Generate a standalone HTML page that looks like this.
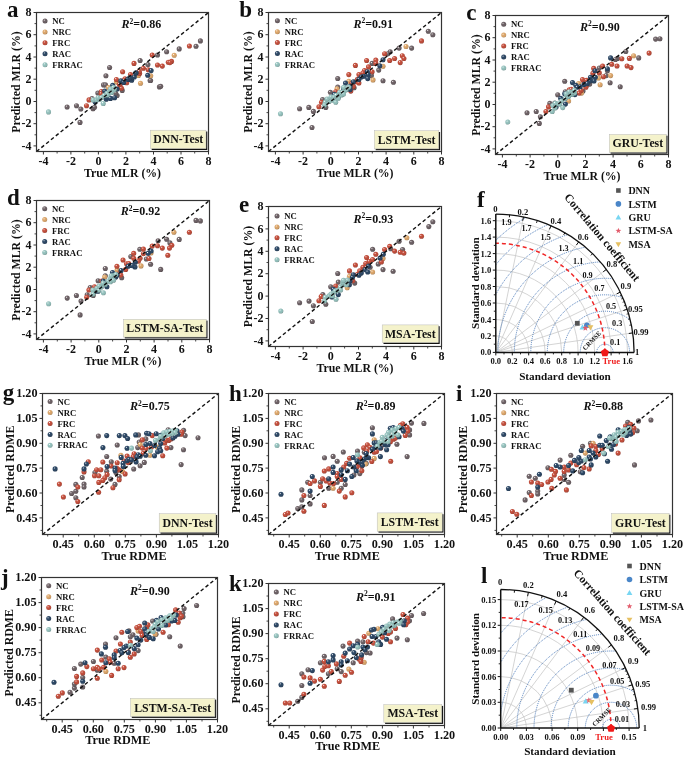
<!DOCTYPE html><html><head><meta charset="utf-8"><style>html,body{margin:0;padding:0;background:#fff}svg{display:block}</style></head><body><svg width="685" height="757" viewBox="0 0 685 757">
<defs><radialGradient id="gNC" cx="0.4" cy="0.38" r="0.62" fx="0.36" fy="0.32"><stop offset="0" stop-color="#ffffff"/><stop offset="0.16" stop-color="#a29a9d"/><stop offset="0.34" stop-color="#716569"/><stop offset="0.85" stop-color="#675c60"/><stop offset="1" stop-color="#544b4e"/></radialGradient><radialGradient id="gNRC" cx="0.4" cy="0.38" r="0.62" fx="0.36" fy="0.32"><stop offset="0" stop-color="#ffffff"/><stop offset="0.16" stop-color="#eac7a0"/><stop offset="0.34" stop-color="#e0aa6e"/><stop offset="0.85" stop-color="#ce9c65"/><stop offset="1" stop-color="#a87f52"/></radialGradient><radialGradient id="gFRC" cx="0.4" cy="0.38" r="0.62" fx="0.36" fy="0.32"><stop offset="0" stop-color="#ffffff"/><stop offset="0.16" stop-color="#d98d82"/><stop offset="0.34" stop-color="#c6513f"/><stop offset="0.85" stop-color="#b64a39"/><stop offset="1" stop-color="#943c2f"/></radialGradient><radialGradient id="gRAC" cx="0.4" cy="0.38" r="0.62" fx="0.36" fy="0.32"><stop offset="0" stop-color="#ffffff"/><stop offset="0.16" stop-color="#77899c"/><stop offset="0.34" stop-color="#2f4a68"/><stop offset="0.85" stop-color="#2b445f"/><stop offset="1" stop-color="#23374e"/></radialGradient><radialGradient id="gFRRAC" cx="0.4" cy="0.38" r="0.62" fx="0.36" fy="0.32"><stop offset="0" stop-color="#ffffff"/><stop offset="0.16" stop-color="#bcd9d6"/><stop offset="0.34" stop-color="#98c5c1"/><stop offset="0.85" stop-color="#8bb5b1"/><stop offset="1" stop-color="#729390"/></radialGradient></defs>
<style>
text{font-family:"Liberation Serif",serif;font-weight:bold;fill:#111}
svg{will-change:transform}
.al{font-size:11.8px}
.lg{font-size:8.7px}
.r2{font-size:12px}
.bx{font-size:11.8px}
.pl{font-size:23px}
.tt{font-size:8.6px}
.tc{font-size:8.2px}
.tcr{font-size:6.5px}
.tl{font-size:10px}
</style>
<rect width="685" height="757" fill="#fff"/>
<clipPath id="cpa"><rect x="36.5" y="12.5" width="172.0" height="139.0"/></clipPath>
<g clip-path="url(#cpa)">
<circle cx="67.1" cy="107.0" r="2.55" fill="url(#gNC)"/>
<circle cx="76.5" cy="105.7" r="2.55" fill="url(#gNC)"/>
<circle cx="80.8" cy="109.0" r="2.55" fill="url(#gNC)"/>
<circle cx="80.0" cy="122.4" r="2.55" fill="url(#gNC)"/>
<circle cx="93.0" cy="108.7" r="2.55" fill="url(#gNC)"/>
<circle cx="94.5" cy="107.2" r="2.55" fill="url(#gNC)"/>
<circle cx="92.0" cy="98.5" r="2.55" fill="url(#gNC)"/>
<circle cx="97.8" cy="93.0" r="2.55" fill="url(#gNC)"/>
<circle cx="117.1" cy="95.5" r="2.55" fill="url(#gNC)"/>
<circle cx="115.7" cy="93.3" r="2.55" fill="url(#gNC)"/>
<circle cx="103.5" cy="84.9" r="2.55" fill="url(#gNC)"/>
<circle cx="105.5" cy="84.9" r="2.55" fill="url(#gNC)"/>
<circle cx="105.9" cy="75.8" r="2.55" fill="url(#gNC)"/>
<circle cx="109.6" cy="67.5" r="2.55" fill="url(#gNC)"/>
<circle cx="122.2" cy="90.4" r="2.55" fill="url(#gNC)"/>
<circle cx="150.1" cy="80.5" r="2.55" fill="url(#gNC)"/>
<circle cx="159.4" cy="86.9" r="2.55" fill="url(#gNC)"/>
<circle cx="200.4" cy="40.9" r="2.55" fill="url(#gNC)"/>
<circle cx="196.0" cy="46.2" r="2.55" fill="url(#gNC)"/>
<circle cx="179.2" cy="48.9" r="2.55" fill="url(#gNC)"/>
<circle cx="166.6" cy="51.8" r="2.55" fill="url(#gNC)"/>
<circle cx="157.5" cy="55.0" r="2.55" fill="url(#gNC)"/>
<circle cx="140.1" cy="60.5" r="2.55" fill="url(#gNC)"/>
<circle cx="147.9" cy="64.6" r="2.55" fill="url(#gNC)"/>
<circle cx="150.6" cy="80.5" r="2.55" fill="url(#gNC)"/>
<circle cx="160.7" cy="86.3" r="2.55" fill="url(#gNC)"/>
<circle cx="108.4" cy="87.5" r="2.55" fill="url(#gNRC)"/>
<circle cx="116.4" cy="82.0" r="2.55" fill="url(#gNRC)"/>
<circle cx="150.7" cy="75.8" r="2.55" fill="url(#gNRC)"/>
<circle cx="140.5" cy="83.2" r="2.55" fill="url(#gNRC)"/>
<circle cx="138.5" cy="75.4" r="2.55" fill="url(#gNRC)"/>
<circle cx="174.2" cy="55.3" r="2.55" fill="url(#gNRC)"/>
<circle cx="86.5" cy="105.7" r="2.55" fill="url(#gFRC)"/>
<circle cx="89.0" cy="99.9" r="2.55" fill="url(#gFRC)"/>
<circle cx="101.4" cy="91.5" r="2.55" fill="url(#gFRC)"/>
<circle cx="101.1" cy="93.7" r="2.55" fill="url(#gFRC)"/>
<circle cx="116.4" cy="79.5" r="2.55" fill="url(#gFRC)"/>
<circle cx="120.0" cy="85.3" r="2.55" fill="url(#gFRC)"/>
<circle cx="121.5" cy="88.2" r="2.55" fill="url(#gFRC)"/>
<circle cx="125.9" cy="82.4" r="2.55" fill="url(#gFRC)"/>
<circle cx="125.0" cy="78.8" r="2.55" fill="url(#gFRC)"/>
<circle cx="126.7" cy="82.8" r="2.55" fill="url(#gFRC)"/>
<circle cx="139.6" cy="73.5" r="2.55" fill="url(#gFRC)"/>
<circle cx="122.6" cy="71.8" r="2.55" fill="url(#gFRC)"/>
<circle cx="130.5" cy="74.6" r="2.55" fill="url(#gFRC)"/>
<circle cx="139.3" cy="71.4" r="2.55" fill="url(#gFRC)"/>
<circle cx="143.4" cy="68.2" r="2.55" fill="url(#gFRC)"/>
<circle cx="148.2" cy="69.8" r="2.55" fill="url(#gFRC)"/>
<circle cx="124.1" cy="80.2" r="2.55" fill="url(#gFRC)"/>
<circle cx="119.3" cy="84.2" r="2.55" fill="url(#gFRC)"/>
<circle cx="189.4" cy="46.0" r="2.55" fill="url(#gFRC)"/>
<circle cx="152.2" cy="55.0" r="2.55" fill="url(#gFRC)"/>
<circle cx="134.0" cy="63.4" r="2.55" fill="url(#gFRC)"/>
<circle cx="157.5" cy="65.0" r="2.55" fill="url(#gFRC)"/>
<circle cx="162.3" cy="66.1" r="2.55" fill="url(#gFRC)"/>
<circle cx="168.3" cy="62.2" r="2.55" fill="url(#gFRC)"/>
<circle cx="171.5" cy="61.4" r="2.55" fill="url(#gFRC)"/>
<circle cx="169.9" cy="62.6" r="2.55" fill="url(#gFRC)"/>
<circle cx="95.2" cy="102.1" r="2.55" fill="url(#gRAC)"/>
<circle cx="104.7" cy="91.1" r="2.55" fill="url(#gRAC)"/>
<circle cx="106.2" cy="99.2" r="2.55" fill="url(#gRAC)"/>
<circle cx="106.9" cy="97.0" r="2.55" fill="url(#gRAC)"/>
<circle cx="109.1" cy="97.7" r="2.55" fill="url(#gRAC)"/>
<circle cx="110.5" cy="98.4" r="2.55" fill="url(#gRAC)"/>
<circle cx="114.6" cy="97.7" r="2.55" fill="url(#gRAC)"/>
<circle cx="112.7" cy="85.3" r="2.55" fill="url(#gRAC)"/>
<circle cx="117.1" cy="89.0" r="2.55" fill="url(#gRAC)"/>
<circle cx="120.8" cy="80.9" r="2.55" fill="url(#gRAC)"/>
<circle cx="123.7" cy="82.4" r="2.55" fill="url(#gRAC)"/>
<circle cx="128.8" cy="79.5" r="2.55" fill="url(#gRAC)"/>
<circle cx="131.7" cy="80.2" r="2.55" fill="url(#gRAC)"/>
<circle cx="127.9" cy="79.3" r="2.55" fill="url(#gRAC)"/>
<circle cx="131.4" cy="78.2" r="2.55" fill="url(#gRAC)"/>
<circle cx="134.3" cy="77.0" r="2.55" fill="url(#gRAC)"/>
<circle cx="136.1" cy="72.9" r="2.55" fill="url(#gRAC)"/>
<circle cx="147.7" cy="75.3" r="2.55" fill="url(#gRAC)"/>
<circle cx="135.7" cy="73.0" r="2.55" fill="url(#gRAC)"/>
<circle cx="151.1" cy="70.6" r="2.55" fill="url(#gRAC)"/>
<circle cx="129.7" cy="77.8" r="2.55" fill="url(#gRAC)"/>
<circle cx="48.5" cy="111.9" r="2.55" fill="url(#gFRRAC)"/>
<circle cx="93.0" cy="99.9" r="2.55" fill="url(#gFRRAC)"/>
<circle cx="96.7" cy="99.9" r="2.55" fill="url(#gFRRAC)"/>
<circle cx="99.6" cy="99.2" r="2.55" fill="url(#gFRRAC)"/>
<circle cx="98.1" cy="97.7" r="2.55" fill="url(#gFRRAC)"/>
<circle cx="103.2" cy="103.5" r="2.55" fill="url(#gFRRAC)"/>
<circle cx="104.0" cy="95.5" r="2.55" fill="url(#gFRRAC)"/>
<circle cx="106.9" cy="93.3" r="2.55" fill="url(#gFRRAC)"/>
<circle cx="109.8" cy="91.1" r="2.55" fill="url(#gFRRAC)"/>
<circle cx="110.5" cy="89.0" r="2.55" fill="url(#gFRRAC)"/>
<circle cx="113.5" cy="87.5" r="2.55" fill="url(#gFRRAC)"/>
<circle cx="114.2" cy="89.7" r="2.55" fill="url(#gFRRAC)"/>
<circle cx="101.5" cy="97.5" r="2.55" fill="url(#gFRRAC)"/>
<circle cx="107.5" cy="95.0" r="2.55" fill="url(#gFRRAC)"/>
<circle cx="111.5" cy="92.5" r="2.55" fill="url(#gFRRAC)"/>
</g>
<line x1="36.5" y1="151.5" x2="208.5" y2="12.5" stroke="#111" stroke-width="1.4" stroke-dasharray="3.6,2.6"/>
<rect x="36.5" y="12.5" width="172.0" height="139.0" fill="none" stroke="#333" stroke-width="1.2"/>
<line x1="43.4" y1="151.5" x2="43.4" y2="154.5" stroke="#333" stroke-width="1"/>
<line x1="33.5" y1="145.9" x2="36.5" y2="145.9" stroke="#333" stroke-width="1"/>
<text x="43.4" y="164.9" text-anchor="middle" class="tk" font-size="12.0">-4</text>
<text x="31.5" y="149.5" text-anchor="end" class="tk" font-size="12.0">-4</text>
<line x1="70.9" y1="151.5" x2="70.9" y2="154.5" stroke="#333" stroke-width="1"/>
<line x1="33.5" y1="123.7" x2="36.5" y2="123.7" stroke="#333" stroke-width="1"/>
<text x="70.9" y="164.9" text-anchor="middle" class="tk" font-size="12.0">-2</text>
<text x="31.5" y="127.3" text-anchor="end" class="tk" font-size="12.0">-2</text>
<line x1="98.4" y1="151.5" x2="98.4" y2="154.5" stroke="#333" stroke-width="1"/>
<line x1="33.5" y1="101.5" x2="36.5" y2="101.5" stroke="#333" stroke-width="1"/>
<text x="98.4" y="164.9" text-anchor="middle" class="tk" font-size="12.0">0</text>
<text x="31.5" y="105.1" text-anchor="end" class="tk" font-size="12.0">0</text>
<line x1="125.9" y1="151.5" x2="125.9" y2="154.5" stroke="#333" stroke-width="1"/>
<line x1="33.5" y1="79.2" x2="36.5" y2="79.2" stroke="#333" stroke-width="1"/>
<text x="125.9" y="164.9" text-anchor="middle" class="tk" font-size="12.0">2</text>
<text x="31.5" y="82.8" text-anchor="end" class="tk" font-size="12.0">2</text>
<line x1="153.5" y1="151.5" x2="153.5" y2="154.5" stroke="#333" stroke-width="1"/>
<line x1="33.5" y1="57.0" x2="36.5" y2="57.0" stroke="#333" stroke-width="1"/>
<text x="153.5" y="164.9" text-anchor="middle" class="tk" font-size="12.0">4</text>
<text x="31.5" y="60.6" text-anchor="end" class="tk" font-size="12.0">4</text>
<line x1="181.0" y1="151.5" x2="181.0" y2="154.5" stroke="#333" stroke-width="1"/>
<line x1="33.5" y1="34.7" x2="36.5" y2="34.7" stroke="#333" stroke-width="1"/>
<text x="181.0" y="164.9" text-anchor="middle" class="tk" font-size="12.0">6</text>
<text x="31.5" y="38.3" text-anchor="end" class="tk" font-size="12.0">6</text>
<line x1="208.5" y1="151.5" x2="208.5" y2="154.5" stroke="#333" stroke-width="1"/>
<line x1="33.5" y1="12.5" x2="36.5" y2="12.5" stroke="#333" stroke-width="1"/>
<text x="208.5" y="164.9" text-anchor="middle" class="tk" font-size="12.0">8</text>
<text x="31.5" y="16.1" text-anchor="end" class="tk" font-size="12.0">8</text>
<line x1="57.1" y1="151.5" x2="57.1" y2="153.5" stroke="#333" stroke-width="0.9"/>
<line x1="34.5" y1="134.8" x2="36.5" y2="134.8" stroke="#333" stroke-width="0.9"/>
<line x1="84.7" y1="151.5" x2="84.7" y2="153.5" stroke="#333" stroke-width="0.9"/>
<line x1="34.5" y1="112.6" x2="36.5" y2="112.6" stroke="#333" stroke-width="0.9"/>
<line x1="112.2" y1="151.5" x2="112.2" y2="153.5" stroke="#333" stroke-width="0.9"/>
<line x1="34.5" y1="90.3" x2="36.5" y2="90.3" stroke="#333" stroke-width="0.9"/>
<line x1="139.7" y1="151.5" x2="139.7" y2="153.5" stroke="#333" stroke-width="0.9"/>
<line x1="34.5" y1="68.1" x2="36.5" y2="68.1" stroke="#333" stroke-width="0.9"/>
<line x1="167.2" y1="151.5" x2="167.2" y2="153.5" stroke="#333" stroke-width="0.9"/>
<line x1="34.5" y1="45.9" x2="36.5" y2="45.9" stroke="#333" stroke-width="0.9"/>
<line x1="194.7" y1="151.5" x2="194.7" y2="153.5" stroke="#333" stroke-width="0.9"/>
<line x1="34.5" y1="23.6" x2="36.5" y2="23.6" stroke="#333" stroke-width="0.9"/>
<text x="122.5" y="176.7" text-anchor="middle" class="al" style="font-size:11.8px">True MLR (%)</text>
<text transform="translate(19.5,82.0) rotate(-90)" text-anchor="middle" class="al">Predicted MLR (%)</text>
<circle cx="45" cy="21.0" r="2.5" fill="url(#gNC)"/>
<text x="52.3" y="24.1" class="lg">NC</text>
<circle cx="45" cy="31.9" r="2.5" fill="url(#gNRC)"/>
<text x="52.3" y="35.0" class="lg">NRC</text>
<circle cx="45" cy="42.8" r="2.5" fill="url(#gFRC)"/>
<text x="52.3" y="45.9" class="lg">FRC</text>
<circle cx="45" cy="53.8" r="2.5" fill="url(#gRAC)"/>
<text x="52.3" y="56.9" class="lg">RAC</text>
<circle cx="45" cy="64.7" r="2.5" fill="url(#gFRRAC)"/>
<text x="52.3" y="67.8" class="lg">FRRAC</text>
<text x="121.6" y="28" class="r2"><tspan font-style="italic">R</tspan><tspan dy="-4.5" font-size="7.5">2</tspan><tspan dy="4.5">=0.86</tspan></text>
<rect x="151.70000000000002" y="131.5" width="55.599999999999994" height="18.5" fill="#111"/>
<rect x="150.4" y="130.2" width="55.599999999999994" height="18.5" fill="#f4f2cb" stroke="#bbb" stroke-width="0.5"/>
<text x="178.2" y="143.3" text-anchor="middle" class="bx">DNN-Test</text>
<text x="7" y="16.8" class="pl">a</text>
<clipPath id="cpb"><rect x="268.5" y="12.5" width="173.0" height="139.0"/></clipPath>
<g clip-path="url(#cpb)">
<circle cx="299.6" cy="108.8" r="2.55" fill="url(#gNC)"/>
<circle cx="308.8" cy="107.4" r="2.55" fill="url(#gNC)"/>
<circle cx="313.4" cy="111.4" r="2.55" fill="url(#gNC)"/>
<circle cx="312.0" cy="127.5" r="2.55" fill="url(#gNC)"/>
<circle cx="322.6" cy="99.6" r="2.55" fill="url(#gNC)"/>
<circle cx="325.8" cy="107.4" r="2.55" fill="url(#gNC)"/>
<circle cx="330.4" cy="92.3" r="2.55" fill="url(#gNC)"/>
<circle cx="337.7" cy="87.1" r="2.55" fill="url(#gNC)"/>
<circle cx="337.7" cy="78.5" r="2.55" fill="url(#gNC)"/>
<circle cx="354.1" cy="87.7" r="2.55" fill="url(#gNC)"/>
<circle cx="428.3" cy="31.2" r="2.55" fill="url(#gNC)"/>
<circle cx="432.8" cy="34.8" r="2.55" fill="url(#gNC)"/>
<circle cx="411.6" cy="48.1" r="2.55" fill="url(#gNC)"/>
<circle cx="399.1" cy="48.1" r="2.55" fill="url(#gNC)"/>
<circle cx="390.2" cy="51.8" r="2.55" fill="url(#gNC)"/>
<circle cx="387.8" cy="53.7" r="2.55" fill="url(#gNC)"/>
<circle cx="372.1" cy="63.4" r="2.55" fill="url(#gNC)"/>
<circle cx="378.7" cy="70.1" r="2.55" fill="url(#gNC)"/>
<circle cx="371.4" cy="75.4" r="2.55" fill="url(#gNC)"/>
<circle cx="383.0" cy="80.7" r="2.55" fill="url(#gNC)"/>
<circle cx="393.4" cy="82.3" r="2.55" fill="url(#gNC)"/>
<circle cx="348.8" cy="81.2" r="2.55" fill="url(#gNRC)"/>
<circle cx="406.0" cy="46.5" r="2.55" fill="url(#gNRC)"/>
<circle cx="383.0" cy="66.2" r="2.55" fill="url(#gNRC)"/>
<circle cx="373.0" cy="79.9" r="2.55" fill="url(#gNRC)"/>
<circle cx="337.0" cy="88.9" r="2.55" fill="url(#gNRC)"/>
<circle cx="318.9" cy="106.8" r="2.55" fill="url(#gFRC)"/>
<circle cx="321.5" cy="102.2" r="2.55" fill="url(#gFRC)"/>
<circle cx="335.7" cy="91.7" r="2.55" fill="url(#gFRC)"/>
<circle cx="357.4" cy="79.2" r="2.55" fill="url(#gFRC)"/>
<circle cx="348.8" cy="74.6" r="2.55" fill="url(#gFRC)"/>
<circle cx="353.4" cy="86.4" r="2.55" fill="url(#gFRC)"/>
<circle cx="421.5" cy="40.9" r="2.55" fill="url(#gFRC)"/>
<circle cx="384.6" cy="53.7" r="2.55" fill="url(#gFRC)"/>
<circle cx="402.3" cy="55.7" r="2.55" fill="url(#gFRC)"/>
<circle cx="403.9" cy="58.5" r="2.55" fill="url(#gFRC)"/>
<circle cx="394.6" cy="58.5" r="2.55" fill="url(#gFRC)"/>
<circle cx="389.7" cy="60.5" r="2.55" fill="url(#gFRC)"/>
<circle cx="400.2" cy="62.6" r="2.55" fill="url(#gFRC)"/>
<circle cx="375.8" cy="60.1" r="2.55" fill="url(#gFRC)"/>
<circle cx="366.6" cy="60.5" r="2.55" fill="url(#gFRC)"/>
<circle cx="375.8" cy="63.4" r="2.55" fill="url(#gFRC)"/>
<circle cx="355.4" cy="65.4" r="2.55" fill="url(#gFRC)"/>
<circle cx="368.5" cy="66.9" r="2.55" fill="url(#gFRC)"/>
<circle cx="372.1" cy="71.7" r="2.55" fill="url(#gFRC)"/>
<circle cx="364.5" cy="70.6" r="2.55" fill="url(#gFRC)"/>
<circle cx="362.9" cy="73.0" r="2.55" fill="url(#gFRC)"/>
<circle cx="358.9" cy="74.6" r="2.55" fill="url(#gFRC)"/>
<circle cx="355.7" cy="81.8" r="2.55" fill="url(#gFRC)"/>
<circle cx="351.7" cy="83.4" r="2.55" fill="url(#gFRC)"/>
<circle cx="358.9" cy="83.0" r="2.55" fill="url(#gFRC)"/>
<circle cx="350.8" cy="91.1" r="2.55" fill="url(#gFRC)"/>
<circle cx="334.4" cy="94.3" r="2.55" fill="url(#gRAC)"/>
<circle cx="338.3" cy="96.9" r="2.55" fill="url(#gRAC)"/>
<circle cx="345.5" cy="83.1" r="2.55" fill="url(#gRAC)"/>
<circle cx="353.4" cy="81.8" r="2.55" fill="url(#gRAC)"/>
<circle cx="350.1" cy="86.4" r="2.55" fill="url(#gRAC)"/>
<circle cx="343.6" cy="88.4" r="2.55" fill="url(#gRAC)"/>
<circle cx="383.0" cy="59.8" r="2.55" fill="url(#gRAC)"/>
<circle cx="379.8" cy="65.8" r="2.55" fill="url(#gRAC)"/>
<circle cx="367.3" cy="71.7" r="2.55" fill="url(#gRAC)"/>
<circle cx="368.2" cy="74.6" r="2.55" fill="url(#gRAC)"/>
<circle cx="363.7" cy="76.2" r="2.55" fill="url(#gRAC)"/>
<circle cx="361.3" cy="77.0" r="2.55" fill="url(#gRAC)"/>
<circle cx="367.7" cy="78.6" r="2.55" fill="url(#gRAC)"/>
<circle cx="358.9" cy="79.4" r="2.55" fill="url(#gRAC)"/>
<circle cx="350.1" cy="89.6" r="2.55" fill="url(#gRAC)"/>
<circle cx="280.5" cy="113.8" r="2.55" fill="url(#gFRRAC)"/>
<circle cx="325.2" cy="102.2" r="2.55" fill="url(#gFRRAC)"/>
<circle cx="329.1" cy="101.5" r="2.55" fill="url(#gFRRAC)"/>
<circle cx="333.1" cy="100.2" r="2.55" fill="url(#gFRRAC)"/>
<circle cx="335.7" cy="102.2" r="2.55" fill="url(#gFRRAC)"/>
<circle cx="338.3" cy="98.2" r="2.55" fill="url(#gFRRAC)"/>
<circle cx="341.6" cy="95.0" r="2.55" fill="url(#gFRRAC)"/>
<circle cx="344.2" cy="91.0" r="2.55" fill="url(#gFRRAC)"/>
<circle cx="346.2" cy="89.7" r="2.55" fill="url(#gFRRAC)"/>
<circle cx="348.8" cy="87.1" r="2.55" fill="url(#gFRRAC)"/>
<circle cx="339.6" cy="92.3" r="2.55" fill="url(#gFRRAC)"/>
<circle cx="327.0" cy="99.0" r="2.55" fill="url(#gFRRAC)"/>
<circle cx="331.0" cy="97.0" r="2.55" fill="url(#gFRRAC)"/>
<circle cx="343.7" cy="87.4" r="2.55" fill="url(#gFRRAC)"/>
<circle cx="334.1" cy="96.9" r="2.55" fill="url(#gFRRAC)"/>
<circle cx="336.2" cy="95.4" r="2.55" fill="url(#gFRRAC)"/>
<circle cx="342.1" cy="92.5" r="2.55" fill="url(#gFRRAC)"/>
<circle cx="343.5" cy="94.0" r="2.55" fill="url(#gFRRAC)"/>
<circle cx="324.6" cy="104.9" r="2.55" fill="url(#gFRRAC)"/>
</g>
<line x1="268.5" y1="151.5" x2="441.5" y2="12.5" stroke="#111" stroke-width="1.4" stroke-dasharray="3.6,2.6"/>
<rect x="268.5" y="12.5" width="173.0" height="139.0" fill="none" stroke="#333" stroke-width="1.2"/>
<line x1="275.4" y1="151.5" x2="275.4" y2="154.5" stroke="#333" stroke-width="1"/>
<line x1="265.5" y1="145.9" x2="268.5" y2="145.9" stroke="#333" stroke-width="1"/>
<text x="275.4" y="164.9" text-anchor="middle" class="tk" font-size="12.0">-4</text>
<text x="263.5" y="149.5" text-anchor="end" class="tk" font-size="12.0">-4</text>
<line x1="303.1" y1="151.5" x2="303.1" y2="154.5" stroke="#333" stroke-width="1"/>
<line x1="265.5" y1="123.7" x2="268.5" y2="123.7" stroke="#333" stroke-width="1"/>
<text x="303.1" y="164.9" text-anchor="middle" class="tk" font-size="12.0">-2</text>
<text x="263.5" y="127.3" text-anchor="end" class="tk" font-size="12.0">-2</text>
<line x1="330.8" y1="151.5" x2="330.8" y2="154.5" stroke="#333" stroke-width="1"/>
<line x1="265.5" y1="101.5" x2="268.5" y2="101.5" stroke="#333" stroke-width="1"/>
<text x="330.8" y="164.9" text-anchor="middle" class="tk" font-size="12.0">0</text>
<text x="263.5" y="105.1" text-anchor="end" class="tk" font-size="12.0">0</text>
<line x1="358.5" y1="151.5" x2="358.5" y2="154.5" stroke="#333" stroke-width="1"/>
<line x1="265.5" y1="79.2" x2="268.5" y2="79.2" stroke="#333" stroke-width="1"/>
<text x="358.5" y="164.9" text-anchor="middle" class="tk" font-size="12.0">2</text>
<text x="263.5" y="82.8" text-anchor="end" class="tk" font-size="12.0">2</text>
<line x1="386.1" y1="151.5" x2="386.1" y2="154.5" stroke="#333" stroke-width="1"/>
<line x1="265.5" y1="57.0" x2="268.5" y2="57.0" stroke="#333" stroke-width="1"/>
<text x="386.1" y="164.9" text-anchor="middle" class="tk" font-size="12.0">4</text>
<text x="263.5" y="60.6" text-anchor="end" class="tk" font-size="12.0">4</text>
<line x1="413.8" y1="151.5" x2="413.8" y2="154.5" stroke="#333" stroke-width="1"/>
<line x1="265.5" y1="34.7" x2="268.5" y2="34.7" stroke="#333" stroke-width="1"/>
<text x="413.8" y="164.9" text-anchor="middle" class="tk" font-size="12.0">6</text>
<text x="263.5" y="38.3" text-anchor="end" class="tk" font-size="12.0">6</text>
<line x1="441.5" y1="151.5" x2="441.5" y2="154.5" stroke="#333" stroke-width="1"/>
<line x1="265.5" y1="12.5" x2="268.5" y2="12.5" stroke="#333" stroke-width="1"/>
<text x="441.5" y="164.9" text-anchor="middle" class="tk" font-size="12.0">8</text>
<text x="263.5" y="16.1" text-anchor="end" class="tk" font-size="12.0">8</text>
<line x1="289.3" y1="151.5" x2="289.3" y2="153.5" stroke="#333" stroke-width="0.9"/>
<line x1="266.5" y1="134.8" x2="268.5" y2="134.8" stroke="#333" stroke-width="0.9"/>
<line x1="316.9" y1="151.5" x2="316.9" y2="153.5" stroke="#333" stroke-width="0.9"/>
<line x1="266.5" y1="112.6" x2="268.5" y2="112.6" stroke="#333" stroke-width="0.9"/>
<line x1="344.6" y1="151.5" x2="344.6" y2="153.5" stroke="#333" stroke-width="0.9"/>
<line x1="266.5" y1="90.3" x2="268.5" y2="90.3" stroke="#333" stroke-width="0.9"/>
<line x1="372.3" y1="151.5" x2="372.3" y2="153.5" stroke="#333" stroke-width="0.9"/>
<line x1="266.5" y1="68.1" x2="268.5" y2="68.1" stroke="#333" stroke-width="0.9"/>
<line x1="400.0" y1="151.5" x2="400.0" y2="153.5" stroke="#333" stroke-width="0.9"/>
<line x1="266.5" y1="45.9" x2="268.5" y2="45.9" stroke="#333" stroke-width="0.9"/>
<line x1="427.7" y1="151.5" x2="427.7" y2="153.5" stroke="#333" stroke-width="0.9"/>
<line x1="266.5" y1="23.6" x2="268.5" y2="23.6" stroke="#333" stroke-width="0.9"/>
<text x="355.0" y="176.7" text-anchor="middle" class="al" style="font-size:11.8px">True MLR (%)</text>
<text transform="translate(252,82.0) rotate(-90)" text-anchor="middle" class="al">Predicted MLR (%)</text>
<circle cx="277.4" cy="20.8" r="2.5" fill="url(#gNC)"/>
<text x="284.7" y="23.9" class="lg">NC</text>
<circle cx="277.4" cy="31.7" r="2.5" fill="url(#gNRC)"/>
<text x="284.7" y="34.8" class="lg">NRC</text>
<circle cx="277.4" cy="42.6" r="2.5" fill="url(#gFRC)"/>
<text x="284.7" y="45.7" class="lg">FRC</text>
<circle cx="277.4" cy="53.6" r="2.5" fill="url(#gRAC)"/>
<text x="284.7" y="56.7" class="lg">RAC</text>
<circle cx="277.4" cy="64.5" r="2.5" fill="url(#gFRRAC)"/>
<text x="284.7" y="67.6" class="lg">FRRAC</text>
<text x="353.4" y="27.6" class="r2"><tspan font-style="italic">R</tspan><tspan dy="-4.5" font-size="7.5">2</tspan><tspan dy="4.5">=0.91</tspan></text>
<rect x="375.7" y="132.0" width="64.40000000000003" height="18.200000000000017" fill="#111"/>
<rect x="374.4" y="130.7" width="64.40000000000003" height="18.200000000000017" fill="#f4f2cb" stroke="#bbb" stroke-width="0.5"/>
<text x="406.6" y="143.6" text-anchor="middle" class="bx">LSTM-Test</text>
<text x="239.2" y="16.7" class="pl">b</text>
<clipPath id="cpc"><rect x="495.5" y="15.5" width="173.0" height="139.0"/></clipPath>
<g clip-path="url(#cpc)">
<circle cx="527.0" cy="112.8" r="2.55" fill="url(#gNC)"/>
<circle cx="536.2" cy="111.5" r="2.55" fill="url(#gNC)"/>
<circle cx="540.4" cy="116.8" r="2.55" fill="url(#gNC)"/>
<circle cx="539.3" cy="123.4" r="2.55" fill="url(#gNC)"/>
<circle cx="549.8" cy="103.4" r="2.55" fill="url(#gNC)"/>
<circle cx="554.8" cy="103.0" r="2.55" fill="url(#gNC)"/>
<circle cx="557.7" cy="94.7" r="2.55" fill="url(#gNC)"/>
<circle cx="565.3" cy="91.8" r="2.55" fill="url(#gNC)"/>
<circle cx="564.7" cy="81.3" r="2.55" fill="url(#gNC)"/>
<circle cx="655.6" cy="39.1" r="2.55" fill="url(#gNC)"/>
<circle cx="659.9" cy="38.7" r="2.55" fill="url(#gNC)"/>
<circle cx="625.8" cy="51.5" r="2.55" fill="url(#gNC)"/>
<circle cx="638.7" cy="57.9" r="2.55" fill="url(#gNC)"/>
<circle cx="617.5" cy="58.4" r="2.55" fill="url(#gNC)"/>
<circle cx="615.4" cy="59.5" r="2.55" fill="url(#gNC)"/>
<circle cx="599.3" cy="68.0" r="2.55" fill="url(#gNC)"/>
<circle cx="607.4" cy="70.8" r="2.55" fill="url(#gNC)"/>
<circle cx="606.2" cy="75.6" r="2.55" fill="url(#gNC)"/>
<circle cx="610.1" cy="82.8" r="2.55" fill="url(#gNC)"/>
<circle cx="620.2" cy="86.8" r="2.55" fill="url(#gNC)"/>
<circle cx="589.7" cy="84.1" r="2.55" fill="url(#gNC)"/>
<circle cx="583.0" cy="91.0" r="2.55" fill="url(#gNC)"/>
<circle cx="568.6" cy="101.0" r="2.55" fill="url(#gNRC)"/>
<circle cx="633.6" cy="55.8" r="2.55" fill="url(#gNRC)"/>
<circle cx="610.6" cy="75.6" r="2.55" fill="url(#gNRC)"/>
<circle cx="598.5" cy="78.0" r="2.55" fill="url(#gNRC)"/>
<circle cx="600.1" cy="84.7" r="2.55" fill="url(#gNRC)"/>
<circle cx="578.6" cy="83.6" r="2.55" fill="url(#gNRC)"/>
<circle cx="581.5" cy="93.1" r="2.55" fill="url(#gNRC)"/>
<circle cx="545.9" cy="111.5" r="2.55" fill="url(#gFRC)"/>
<circle cx="548.5" cy="106.9" r="2.55" fill="url(#gFRC)"/>
<circle cx="569.3" cy="89.9" r="2.55" fill="url(#gFRC)"/>
<circle cx="581.1" cy="90.5" r="2.55" fill="url(#gFRC)"/>
<circle cx="579.1" cy="93.1" r="2.55" fill="url(#gFRC)"/>
<circle cx="583.7" cy="81.3" r="2.55" fill="url(#gFRC)"/>
<circle cx="649.1" cy="53.1" r="2.55" fill="url(#gFRC)"/>
<circle cx="629.4" cy="58.4" r="2.55" fill="url(#gFRC)"/>
<circle cx="621.8" cy="58.7" r="2.55" fill="url(#gFRC)"/>
<circle cx="611.7" cy="64.3" r="2.55" fill="url(#gFRC)"/>
<circle cx="617.0" cy="66.0" r="2.55" fill="url(#gFRC)"/>
<circle cx="627.1" cy="66.0" r="2.55" fill="url(#gFRC)"/>
<circle cx="631.0" cy="67.6" r="2.55" fill="url(#gFRC)"/>
<circle cx="602.6" cy="66.0" r="2.55" fill="url(#gFRC)"/>
<circle cx="593.7" cy="68.4" r="2.55" fill="url(#gFRC)"/>
<circle cx="599.3" cy="72.9" r="2.55" fill="url(#gFRC)"/>
<circle cx="592.9" cy="73.2" r="2.55" fill="url(#gFRC)"/>
<circle cx="603.4" cy="76.7" r="2.55" fill="url(#gFRC)"/>
<circle cx="582.5" cy="79.6" r="2.55" fill="url(#gFRC)"/>
<circle cx="586.5" cy="80.4" r="2.55" fill="url(#gFRC)"/>
<circle cx="586.5" cy="85.2" r="2.55" fill="url(#gFRC)"/>
<circle cx="571.2" cy="89.2" r="2.55" fill="url(#gFRC)"/>
<circle cx="585.9" cy="87.3" r="2.55" fill="url(#gFRC)"/>
<circle cx="556.1" cy="106.9" r="2.55" fill="url(#gRAC)"/>
<circle cx="560.7" cy="98.4" r="2.55" fill="url(#gRAC)"/>
<circle cx="564.7" cy="93.8" r="2.55" fill="url(#gRAC)"/>
<circle cx="572.5" cy="82.6" r="2.55" fill="url(#gRAC)"/>
<circle cx="575.8" cy="85.3" r="2.55" fill="url(#gRAC)"/>
<circle cx="610.6" cy="57.9" r="2.55" fill="url(#gRAC)"/>
<circle cx="607.4" cy="68.7" r="2.55" fill="url(#gRAC)"/>
<circle cx="595.0" cy="70.8" r="2.55" fill="url(#gRAC)"/>
<circle cx="595.3" cy="77.2" r="2.55" fill="url(#gRAC)"/>
<circle cx="590.5" cy="77.2" r="2.55" fill="url(#gRAC)"/>
<circle cx="594.0" cy="80.9" r="2.55" fill="url(#gRAC)"/>
<circle cx="589.7" cy="80.9" r="2.55" fill="url(#gRAC)"/>
<circle cx="584.1" cy="84.4" r="2.55" fill="url(#gRAC)"/>
<circle cx="580.1" cy="86.8" r="2.55" fill="url(#gRAC)"/>
<circle cx="577.1" cy="87.3" r="2.55" fill="url(#gRAC)"/>
<circle cx="587.3" cy="83.6" r="2.55" fill="url(#gRAC)"/>
<circle cx="574.9" cy="94.6" r="2.55" fill="url(#gRAC)"/>
<circle cx="565.4" cy="104.1" r="2.55" fill="url(#gRAC)"/>
<circle cx="507.8" cy="122.0" r="2.55" fill="url(#gFRRAC)"/>
<circle cx="552.2" cy="111.5" r="2.55" fill="url(#gFRRAC)"/>
<circle cx="552.8" cy="105.6" r="2.55" fill="url(#gFRRAC)"/>
<circle cx="557.4" cy="103.7" r="2.55" fill="url(#gFRRAC)"/>
<circle cx="562.7" cy="107.6" r="2.55" fill="url(#gFRRAC)"/>
<circle cx="561.4" cy="101.0" r="2.55" fill="url(#gFRRAC)"/>
<circle cx="565.3" cy="98.4" r="2.55" fill="url(#gFRRAC)"/>
<circle cx="568.6" cy="96.4" r="2.55" fill="url(#gFRRAC)"/>
<circle cx="571.9" cy="94.5" r="2.55" fill="url(#gFRRAC)"/>
<circle cx="574.5" cy="93.1" r="2.55" fill="url(#gFRRAC)"/>
<circle cx="555.0" cy="108.0" r="2.55" fill="url(#gFRRAC)"/>
<circle cx="555.2" cy="103.4" r="2.55" fill="url(#gFRRAC)"/>
<circle cx="569.8" cy="94.6" r="2.55" fill="url(#gFRRAC)"/>
<circle cx="572.0" cy="92.4" r="2.55" fill="url(#gFRRAC)"/>
<circle cx="574.2" cy="90.2" r="2.55" fill="url(#gFRRAC)"/>
<circle cx="569.1" cy="91.7" r="2.55" fill="url(#gFRRAC)"/>
<circle cx="566.2" cy="93.9" r="2.55" fill="url(#gFRRAC)"/>
<circle cx="559.6" cy="104.1" r="2.55" fill="url(#gFRRAC)"/>
</g>
<line x1="495.5" y1="154.5" x2="668.5" y2="15.5" stroke="#111" stroke-width="1.4" stroke-dasharray="3.6,2.6"/>
<rect x="495.5" y="15.5" width="173.0" height="139.0" fill="none" stroke="#333" stroke-width="1.2"/>
<line x1="502.4" y1="154.5" x2="502.4" y2="157.5" stroke="#333" stroke-width="1"/>
<line x1="492.5" y1="148.9" x2="495.5" y2="148.9" stroke="#333" stroke-width="1"/>
<text x="502.4" y="167.9" text-anchor="middle" class="tk" font-size="12.0">-4</text>
<text x="490.5" y="152.5" text-anchor="end" class="tk" font-size="12.0">-4</text>
<line x1="530.1" y1="154.5" x2="530.1" y2="157.5" stroke="#333" stroke-width="1"/>
<line x1="492.5" y1="126.7" x2="495.5" y2="126.7" stroke="#333" stroke-width="1"/>
<text x="530.1" y="167.9" text-anchor="middle" class="tk" font-size="12.0">-2</text>
<text x="490.5" y="130.3" text-anchor="end" class="tk" font-size="12.0">-2</text>
<line x1="557.8" y1="154.5" x2="557.8" y2="157.5" stroke="#333" stroke-width="1"/>
<line x1="492.5" y1="104.5" x2="495.5" y2="104.5" stroke="#333" stroke-width="1"/>
<text x="557.8" y="167.9" text-anchor="middle" class="tk" font-size="12.0">0</text>
<text x="490.5" y="108.1" text-anchor="end" class="tk" font-size="12.0">0</text>
<line x1="585.5" y1="154.5" x2="585.5" y2="157.5" stroke="#333" stroke-width="1"/>
<line x1="492.5" y1="82.2" x2="495.5" y2="82.2" stroke="#333" stroke-width="1"/>
<text x="585.5" y="167.9" text-anchor="middle" class="tk" font-size="12.0">2</text>
<text x="490.5" y="85.8" text-anchor="end" class="tk" font-size="12.0">2</text>
<line x1="613.1" y1="154.5" x2="613.1" y2="157.5" stroke="#333" stroke-width="1"/>
<line x1="492.5" y1="60.0" x2="495.5" y2="60.0" stroke="#333" stroke-width="1"/>
<text x="613.1" y="167.9" text-anchor="middle" class="tk" font-size="12.0">4</text>
<text x="490.5" y="63.6" text-anchor="end" class="tk" font-size="12.0">4</text>
<line x1="640.8" y1="154.5" x2="640.8" y2="157.5" stroke="#333" stroke-width="1"/>
<line x1="492.5" y1="37.7" x2="495.5" y2="37.7" stroke="#333" stroke-width="1"/>
<text x="640.8" y="167.9" text-anchor="middle" class="tk" font-size="12.0">6</text>
<text x="490.5" y="41.3" text-anchor="end" class="tk" font-size="12.0">6</text>
<line x1="668.5" y1="154.5" x2="668.5" y2="157.5" stroke="#333" stroke-width="1"/>
<line x1="492.5" y1="15.5" x2="495.5" y2="15.5" stroke="#333" stroke-width="1"/>
<text x="668.5" y="167.9" text-anchor="middle" class="tk" font-size="12.0">8</text>
<text x="490.5" y="19.1" text-anchor="end" class="tk" font-size="12.0">8</text>
<line x1="516.3" y1="154.5" x2="516.3" y2="156.5" stroke="#333" stroke-width="0.9"/>
<line x1="493.5" y1="137.8" x2="495.5" y2="137.8" stroke="#333" stroke-width="0.9"/>
<line x1="543.9" y1="154.5" x2="543.9" y2="156.5" stroke="#333" stroke-width="0.9"/>
<line x1="493.5" y1="115.6" x2="495.5" y2="115.6" stroke="#333" stroke-width="0.9"/>
<line x1="571.6" y1="154.5" x2="571.6" y2="156.5" stroke="#333" stroke-width="0.9"/>
<line x1="493.5" y1="93.3" x2="495.5" y2="93.3" stroke="#333" stroke-width="0.9"/>
<line x1="599.3" y1="154.5" x2="599.3" y2="156.5" stroke="#333" stroke-width="0.9"/>
<line x1="493.5" y1="71.1" x2="495.5" y2="71.1" stroke="#333" stroke-width="0.9"/>
<line x1="627.0" y1="154.5" x2="627.0" y2="156.5" stroke="#333" stroke-width="0.9"/>
<line x1="493.5" y1="48.9" x2="495.5" y2="48.9" stroke="#333" stroke-width="0.9"/>
<line x1="654.7" y1="154.5" x2="654.7" y2="156.5" stroke="#333" stroke-width="0.9"/>
<line x1="493.5" y1="26.6" x2="495.5" y2="26.6" stroke="#333" stroke-width="0.9"/>
<text x="582.0" y="179.7" text-anchor="middle" class="al" style="font-size:11.8px">True MLR (%)</text>
<text transform="translate(479.5,85.0) rotate(-90)" text-anchor="middle" class="al">Predicted MLR (%)</text>
<circle cx="503.7" cy="24.2" r="2.5" fill="url(#gNC)"/>
<text x="511.0" y="27.3" class="lg">NC</text>
<circle cx="503.7" cy="35.1" r="2.5" fill="url(#gNRC)"/>
<text x="511.0" y="38.2" class="lg">NRC</text>
<circle cx="503.7" cy="46.0" r="2.5" fill="url(#gFRC)"/>
<text x="511.0" y="49.1" class="lg">FRC</text>
<circle cx="503.7" cy="57.0" r="2.5" fill="url(#gRAC)"/>
<text x="511.0" y="60.1" class="lg">RAC</text>
<circle cx="503.7" cy="67.9" r="2.5" fill="url(#gFRRAC)"/>
<text x="511.0" y="71.0" class="lg">FRRAC</text>
<text x="580.1" y="30.9" class="r2"><tspan font-style="italic">R</tspan><tspan dy="-4.5" font-size="7.5">2</tspan><tspan dy="4.5">=0.90</tspan></text>
<rect x="610.5999999999999" y="135.70000000000002" width="56.90000000000009" height="17.900000000000006" fill="#111"/>
<rect x="609.3" y="134.4" width="56.90000000000009" height="17.900000000000006" fill="#f4f2cb" stroke="#bbb" stroke-width="0.5"/>
<text x="637.8" y="147.2" text-anchor="middle" class="bx">GRU-Test</text>
<text x="466.3" y="20.2" class="pl">c</text>
<clipPath id="cpd"><rect x="36.5" y="200.5" width="173.0" height="139.0"/></clipPath>
<g clip-path="url(#cpd)">
<circle cx="67.2" cy="298.1" r="2.55" fill="url(#gNC)"/>
<circle cx="76.4" cy="295.5" r="2.55" fill="url(#gNC)"/>
<circle cx="81.0" cy="301.0" r="2.55" fill="url(#gNC)"/>
<circle cx="80.1" cy="314.9" r="2.55" fill="url(#gNC)"/>
<circle cx="90.2" cy="287.6" r="2.55" fill="url(#gNC)"/>
<circle cx="93.2" cy="295.5" r="2.55" fill="url(#gNC)"/>
<circle cx="98.1" cy="280.8" r="2.55" fill="url(#gNC)"/>
<circle cx="105.3" cy="268.5" r="2.55" fill="url(#gNC)"/>
<circle cx="121.7" cy="277.7" r="2.55" fill="url(#gNC)"/>
<circle cx="105.3" cy="275.8" r="2.55" fill="url(#gNC)"/>
<circle cx="196.0" cy="220.4" r="2.55" fill="url(#gNC)"/>
<circle cx="200.4" cy="220.9" r="2.55" fill="url(#gNC)"/>
<circle cx="166.6" cy="239.2" r="2.55" fill="url(#gNC)"/>
<circle cx="179.2" cy="239.4" r="2.55" fill="url(#gNC)"/>
<circle cx="169.9" cy="242.9" r="2.55" fill="url(#gNC)"/>
<circle cx="158.1" cy="240.8" r="2.55" fill="url(#gNC)"/>
<circle cx="139.8" cy="249.3" r="2.55" fill="url(#gNC)"/>
<circle cx="130.8" cy="256.6" r="2.55" fill="url(#gNC)"/>
<circle cx="146.3" cy="259.0" r="2.55" fill="url(#gNC)"/>
<circle cx="150.6" cy="264.3" r="2.55" fill="url(#gNC)"/>
<circle cx="160.7" cy="269.4" r="2.55" fill="url(#gNC)"/>
<circle cx="87.2" cy="294.8" r="2.55" fill="url(#gNC)"/>
<circle cx="117.1" cy="269.9" r="2.55" fill="url(#gNRC)"/>
<circle cx="173.9" cy="232.2" r="2.55" fill="url(#gNRC)"/>
<circle cx="151.0" cy="253.0" r="2.55" fill="url(#gNRC)"/>
<circle cx="141.0" cy="265.9" r="2.55" fill="url(#gNRC)"/>
<circle cx="104.7" cy="277.0" r="2.55" fill="url(#gNRC)"/>
<circle cx="86.7" cy="297.2" r="2.55" fill="url(#gFRC)"/>
<circle cx="88.9" cy="290.0" r="2.55" fill="url(#gFRC)"/>
<circle cx="116.9" cy="266.3" r="2.55" fill="url(#gFRC)"/>
<circle cx="123.0" cy="260.0" r="2.55" fill="url(#gFRC)"/>
<circle cx="119.8" cy="273.1" r="2.55" fill="url(#gFRC)"/>
<circle cx="189.4" cy="232.2" r="2.55" fill="url(#gFRC)"/>
<circle cx="171.8" cy="245.3" r="2.55" fill="url(#gFRC)"/>
<circle cx="169.5" cy="248.1" r="2.55" fill="url(#gFRC)"/>
<circle cx="157.5" cy="245.7" r="2.55" fill="url(#gFRC)"/>
<circle cx="162.3" cy="248.1" r="2.55" fill="url(#gFRC)"/>
<circle cx="152.2" cy="246.1" r="2.55" fill="url(#gFRC)"/>
<circle cx="167.8" cy="255.3" r="2.55" fill="url(#gFRC)"/>
<circle cx="143.4" cy="249.0" r="2.55" fill="url(#gFRC)"/>
<circle cx="133.7" cy="253.4" r="2.55" fill="url(#gFRC)"/>
<circle cx="143.4" cy="253.7" r="2.55" fill="url(#gFRC)"/>
<circle cx="149.0" cy="258.5" r="2.55" fill="url(#gFRC)"/>
<circle cx="140.1" cy="258.2" r="2.55" fill="url(#gFRC)"/>
<circle cx="133.7" cy="258.2" r="2.55" fill="url(#gFRC)"/>
<circle cx="138.5" cy="261.1" r="2.55" fill="url(#gFRC)"/>
<circle cx="126.5" cy="263.8" r="2.55" fill="url(#gFRC)"/>
<circle cx="125.7" cy="269.4" r="2.55" fill="url(#gFRC)"/>
<circle cx="120.8" cy="275.1" r="2.55" fill="url(#gFRC)"/>
<circle cx="128.8" cy="263.5" r="2.55" fill="url(#gFRC)"/>
<circle cx="101.8" cy="281.0" r="2.55" fill="url(#gFRC)"/>
<circle cx="94.5" cy="286.8" r="2.55" fill="url(#gFRC)"/>
<circle cx="94.8" cy="291.5" r="2.55" fill="url(#gRAC)"/>
<circle cx="112.5" cy="272.5" r="2.55" fill="url(#gRAC)"/>
<circle cx="121.1" cy="270.5" r="2.55" fill="url(#gRAC)"/>
<circle cx="115.8" cy="277.1" r="2.55" fill="url(#gRAC)"/>
<circle cx="151.1" cy="251.0" r="2.55" fill="url(#gRAC)"/>
<circle cx="148.2" cy="253.4" r="2.55" fill="url(#gRAC)"/>
<circle cx="135.3" cy="262.2" r="2.55" fill="url(#gRAC)"/>
<circle cx="130.2" cy="265.4" r="2.55" fill="url(#gRAC)"/>
<circle cx="135.0" cy="267.0" r="2.55" fill="url(#gRAC)"/>
<circle cx="128.1" cy="266.2" r="2.55" fill="url(#gRAC)"/>
<circle cx="132.4" cy="265.6" r="2.55" fill="url(#gRAC)"/>
<circle cx="117.1" cy="275.1" r="2.55" fill="url(#gRAC)"/>
<circle cx="103.2" cy="281.0" r="2.55" fill="url(#gRAC)"/>
<circle cx="106.9" cy="286.8" r="2.55" fill="url(#gRAC)"/>
<circle cx="98.1" cy="291.2" r="2.55" fill="url(#gRAC)"/>
<circle cx="48.6" cy="303.8" r="2.55" fill="url(#gFRRAC)"/>
<circle cx="92.8" cy="290.0" r="2.55" fill="url(#gFRRAC)"/>
<circle cx="96.8" cy="288.2" r="2.55" fill="url(#gFRRAC)"/>
<circle cx="101.4" cy="286.9" r="2.55" fill="url(#gFRRAC)"/>
<circle cx="103.4" cy="292.8" r="2.55" fill="url(#gFRRAC)"/>
<circle cx="105.3" cy="284.3" r="2.55" fill="url(#gFRRAC)"/>
<circle cx="108.0" cy="281.0" r="2.55" fill="url(#gFRRAC)"/>
<circle cx="110.6" cy="278.4" r="2.55" fill="url(#gFRRAC)"/>
<circle cx="113.2" cy="275.8" r="2.55" fill="url(#gFRRAC)"/>
<circle cx="115.8" cy="274.5" r="2.55" fill="url(#gFRRAC)"/>
<circle cx="98.8" cy="290.2" r="2.55" fill="url(#gFRRAC)"/>
<circle cx="99.0" cy="286.0" r="2.55" fill="url(#gFRRAC)"/>
<circle cx="103.0" cy="283.0" r="2.55" fill="url(#gFRRAC)"/>
<circle cx="111.2" cy="275.8" r="2.55" fill="url(#gFRRAC)"/>
<circle cx="110.5" cy="281.7" r="2.55" fill="url(#gFRRAC)"/>
<circle cx="93.0" cy="294.1" r="2.55" fill="url(#gFRRAC)"/>
<circle cx="113.5" cy="280.2" r="2.55" fill="url(#gFRRAC)"/>
</g>
<line x1="36.5" y1="339.5" x2="209.5" y2="200.5" stroke="#111" stroke-width="1.4" stroke-dasharray="3.6,2.6"/>
<rect x="36.5" y="200.5" width="173.0" height="139.0" fill="none" stroke="#333" stroke-width="1.2"/>
<line x1="43.4" y1="339.5" x2="43.4" y2="342.5" stroke="#333" stroke-width="1"/>
<line x1="33.5" y1="333.9" x2="36.5" y2="333.9" stroke="#333" stroke-width="1"/>
<text x="43.4" y="352.9" text-anchor="middle" class="tk" font-size="12.0">-4</text>
<text x="31.5" y="337.5" text-anchor="end" class="tk" font-size="12.0">-4</text>
<line x1="71.1" y1="339.5" x2="71.1" y2="342.5" stroke="#333" stroke-width="1"/>
<line x1="33.5" y1="311.7" x2="36.5" y2="311.7" stroke="#333" stroke-width="1"/>
<text x="71.1" y="352.9" text-anchor="middle" class="tk" font-size="12.0">-2</text>
<text x="31.5" y="315.3" text-anchor="end" class="tk" font-size="12.0">-2</text>
<line x1="98.8" y1="339.5" x2="98.8" y2="342.5" stroke="#333" stroke-width="1"/>
<line x1="33.5" y1="289.5" x2="36.5" y2="289.5" stroke="#333" stroke-width="1"/>
<text x="98.8" y="352.9" text-anchor="middle" class="tk" font-size="12.0">0</text>
<text x="31.5" y="293.1" text-anchor="end" class="tk" font-size="12.0">0</text>
<line x1="126.5" y1="339.5" x2="126.5" y2="342.5" stroke="#333" stroke-width="1"/>
<line x1="33.5" y1="267.2" x2="36.5" y2="267.2" stroke="#333" stroke-width="1"/>
<text x="126.5" y="352.9" text-anchor="middle" class="tk" font-size="12.0">2</text>
<text x="31.5" y="270.8" text-anchor="end" class="tk" font-size="12.0">2</text>
<line x1="154.1" y1="339.5" x2="154.1" y2="342.5" stroke="#333" stroke-width="1"/>
<line x1="33.5" y1="245.0" x2="36.5" y2="245.0" stroke="#333" stroke-width="1"/>
<text x="154.1" y="352.9" text-anchor="middle" class="tk" font-size="12.0">4</text>
<text x="31.5" y="248.6" text-anchor="end" class="tk" font-size="12.0">4</text>
<line x1="181.8" y1="339.5" x2="181.8" y2="342.5" stroke="#333" stroke-width="1"/>
<line x1="33.5" y1="222.7" x2="36.5" y2="222.7" stroke="#333" stroke-width="1"/>
<text x="181.8" y="352.9" text-anchor="middle" class="tk" font-size="12.0">6</text>
<text x="31.5" y="226.3" text-anchor="end" class="tk" font-size="12.0">6</text>
<line x1="209.5" y1="339.5" x2="209.5" y2="342.5" stroke="#333" stroke-width="1"/>
<line x1="33.5" y1="200.5" x2="36.5" y2="200.5" stroke="#333" stroke-width="1"/>
<text x="209.5" y="352.9" text-anchor="middle" class="tk" font-size="12.0">8</text>
<text x="31.5" y="204.1" text-anchor="end" class="tk" font-size="12.0">8</text>
<line x1="57.3" y1="339.5" x2="57.3" y2="341.5" stroke="#333" stroke-width="0.9"/>
<line x1="34.5" y1="322.8" x2="36.5" y2="322.8" stroke="#333" stroke-width="0.9"/>
<line x1="84.9" y1="339.5" x2="84.9" y2="341.5" stroke="#333" stroke-width="0.9"/>
<line x1="34.5" y1="300.6" x2="36.5" y2="300.6" stroke="#333" stroke-width="0.9"/>
<line x1="112.6" y1="339.5" x2="112.6" y2="341.5" stroke="#333" stroke-width="0.9"/>
<line x1="34.5" y1="278.3" x2="36.5" y2="278.3" stroke="#333" stroke-width="0.9"/>
<line x1="140.3" y1="339.5" x2="140.3" y2="341.5" stroke="#333" stroke-width="0.9"/>
<line x1="34.5" y1="256.1" x2="36.5" y2="256.1" stroke="#333" stroke-width="0.9"/>
<line x1="168.0" y1="339.5" x2="168.0" y2="341.5" stroke="#333" stroke-width="0.9"/>
<line x1="34.5" y1="233.9" x2="36.5" y2="233.9" stroke="#333" stroke-width="0.9"/>
<line x1="195.7" y1="339.5" x2="195.7" y2="341.5" stroke="#333" stroke-width="0.9"/>
<line x1="34.5" y1="211.6" x2="36.5" y2="211.6" stroke="#333" stroke-width="0.9"/>
<text x="123.0" y="364.7" text-anchor="middle" class="al" style="font-size:11.8px">True MLR (%)</text>
<text transform="translate(19.5,270.0) rotate(-90)" text-anchor="middle" class="al">Predicted MLR (%)</text>
<circle cx="44.7" cy="208.7" r="2.5" fill="url(#gNC)"/>
<text x="52.0" y="211.8" class="lg">NC</text>
<circle cx="44.7" cy="219.6" r="2.5" fill="url(#gNRC)"/>
<text x="52.0" y="222.7" class="lg">NRC</text>
<circle cx="44.7" cy="230.5" r="2.5" fill="url(#gFRC)"/>
<text x="52.0" y="233.6" class="lg">FRC</text>
<circle cx="44.7" cy="241.5" r="2.5" fill="url(#gRAC)"/>
<text x="52.0" y="244.6" class="lg">RAC</text>
<circle cx="44.7" cy="252.4" r="2.5" fill="url(#gFRRAC)"/>
<text x="52.0" y="255.5" class="lg">FRRAC</text>
<text x="120.7" y="215.4" class="r2"><tspan font-style="italic">R</tspan><tspan dy="-4.5" font-size="7.5">2</tspan><tspan dy="4.5">=0.92</tspan></text>
<rect x="124.8" y="320.6" width="82.69999999999999" height="17.80000000000001" fill="#111"/>
<rect x="123.5" y="319.3" width="82.69999999999999" height="17.80000000000001" fill="#f4f2cb" stroke="#bbb" stroke-width="0.5"/>
<text x="164.8" y="331.7" text-anchor="middle" class="bx">LSTM-SA-Test</text>
<text x="7" y="205.2" class="pl">d</text>
<clipPath id="cpe"><rect x="268.5" y="206.5" width="173.0" height="140.0"/></clipPath>
<g clip-path="url(#cpe)">
<circle cx="299.6" cy="302.8" r="2.55" fill="url(#gNC)"/>
<circle cx="309.0" cy="301.1" r="2.55" fill="url(#gNC)"/>
<circle cx="313.4" cy="305.7" r="2.55" fill="url(#gNC)"/>
<circle cx="312.3" cy="321.5" r="2.55" fill="url(#gNC)"/>
<circle cx="322.8" cy="294.6" r="2.55" fill="url(#gNC)"/>
<circle cx="325.8" cy="304.2" r="2.55" fill="url(#gNC)"/>
<circle cx="330.7" cy="286.7" r="2.55" fill="url(#gNC)"/>
<circle cx="337.7" cy="273.5" r="2.55" fill="url(#gNC)"/>
<circle cx="338.3" cy="282.1" r="2.55" fill="url(#gNC)"/>
<circle cx="354.7" cy="283.1" r="2.55" fill="url(#gNC)"/>
<circle cx="432.8" cy="221.7" r="2.55" fill="url(#gNC)"/>
<circle cx="428.8" cy="226.6" r="2.55" fill="url(#gNC)"/>
<circle cx="411.6" cy="242.3" r="2.55" fill="url(#gNC)"/>
<circle cx="399.1" cy="241.2" r="2.55" fill="url(#gNC)"/>
<circle cx="390.7" cy="248.7" r="2.55" fill="url(#gNC)"/>
<circle cx="402.6" cy="249.5" r="2.55" fill="url(#gNC)"/>
<circle cx="372.6" cy="249.2" r="2.55" fill="url(#gNC)"/>
<circle cx="378.2" cy="264.0" r="2.55" fill="url(#gNC)"/>
<circle cx="370.1" cy="267.2" r="2.55" fill="url(#gNC)"/>
<circle cx="383.0" cy="269.6" r="2.55" fill="url(#gNC)"/>
<circle cx="393.1" cy="271.2" r="2.55" fill="url(#gNC)"/>
<circle cx="349.5" cy="276.2" r="2.55" fill="url(#gNRC)"/>
<circle cx="406.8" cy="237.8" r="2.55" fill="url(#gNRC)"/>
<circle cx="383.0" cy="258.4" r="2.55" fill="url(#gNRC)"/>
<circle cx="372.6" cy="272.0" r="2.55" fill="url(#gNRC)"/>
<circle cx="347.2" cy="287.7" r="2.55" fill="url(#gNRC)"/>
<circle cx="318.9" cy="300.7" r="2.55" fill="url(#gFRC)"/>
<circle cx="321.2" cy="296.5" r="2.55" fill="url(#gFRC)"/>
<circle cx="335.7" cy="286.0" r="2.55" fill="url(#gFRC)"/>
<circle cx="349.5" cy="270.9" r="2.55" fill="url(#gFRC)"/>
<circle cx="357.4" cy="274.2" r="2.55" fill="url(#gFRC)"/>
<circle cx="352.8" cy="280.8" r="2.55" fill="url(#gFRC)"/>
<circle cx="355.4" cy="265.0" r="2.55" fill="url(#gFRC)"/>
<circle cx="421.5" cy="236.2" r="2.55" fill="url(#gFRC)"/>
<circle cx="389.7" cy="246.3" r="2.55" fill="url(#gFRC)"/>
<circle cx="384.6" cy="249.5" r="2.55" fill="url(#gFRC)"/>
<circle cx="394.6" cy="251.1" r="2.55" fill="url(#gFRC)"/>
<circle cx="400.2" cy="252.3" r="2.55" fill="url(#gFRC)"/>
<circle cx="403.9" cy="253.1" r="2.55" fill="url(#gFRC)"/>
<circle cx="375.8" cy="254.3" r="2.55" fill="url(#gFRC)"/>
<circle cx="366.6" cy="257.6" r="2.55" fill="url(#gFRC)"/>
<circle cx="372.6" cy="259.6" r="2.55" fill="url(#gFRC)"/>
<circle cx="381.4" cy="261.9" r="2.55" fill="url(#gFRC)"/>
<circle cx="369.3" cy="261.6" r="2.55" fill="url(#gFRC)"/>
<circle cx="365.7" cy="263.5" r="2.55" fill="url(#gFRC)"/>
<circle cx="362.9" cy="267.2" r="2.55" fill="url(#gFRC)"/>
<circle cx="359.7" cy="270.9" r="2.55" fill="url(#gFRC)"/>
<circle cx="338.3" cy="294.6" r="2.55" fill="url(#gRAC)"/>
<circle cx="332.0" cy="297.0" r="2.55" fill="url(#gRAC)"/>
<circle cx="353.4" cy="274.9" r="2.55" fill="url(#gRAC)"/>
<circle cx="383.3" cy="254.3" r="2.55" fill="url(#gRAC)"/>
<circle cx="380.1" cy="258.0" r="2.55" fill="url(#gRAC)"/>
<circle cx="368.5" cy="266.1" r="2.55" fill="url(#gRAC)"/>
<circle cx="365.0" cy="269.6" r="2.55" fill="url(#gRAC)"/>
<circle cx="367.7" cy="272.0" r="2.55" fill="url(#gRAC)"/>
<circle cx="361.3" cy="273.1" r="2.55" fill="url(#gRAC)"/>
<circle cx="358.9" cy="275.2" r="2.55" fill="url(#gRAC)"/>
<circle cx="352.5" cy="277.3" r="2.55" fill="url(#gRAC)"/>
<circle cx="350.1" cy="281.1" r="2.55" fill="url(#gRAC)"/>
<circle cx="349.4" cy="284.8" r="2.55" fill="url(#gRAC)"/>
<circle cx="333.3" cy="289.2" r="2.55" fill="url(#gRAC)"/>
<circle cx="280.8" cy="311.0" r="2.55" fill="url(#gFRRAC)"/>
<circle cx="325.2" cy="297.2" r="2.55" fill="url(#gFRRAC)"/>
<circle cx="329.1" cy="295.9" r="2.55" fill="url(#gFRRAC)"/>
<circle cx="336.0" cy="299.2" r="2.55" fill="url(#gFRRAC)"/>
<circle cx="333.1" cy="293.2" r="2.55" fill="url(#gFRRAC)"/>
<circle cx="337.0" cy="290.6" r="2.55" fill="url(#gFRRAC)"/>
<circle cx="340.3" cy="287.3" r="2.55" fill="url(#gFRRAC)"/>
<circle cx="342.9" cy="284.7" r="2.55" fill="url(#gFRRAC)"/>
<circle cx="345.5" cy="282.1" r="2.55" fill="url(#gFRRAC)"/>
<circle cx="347.5" cy="280.1" r="2.55" fill="url(#gFRRAC)"/>
<circle cx="331.0" cy="294.0" r="2.55" fill="url(#gFRRAC)"/>
<circle cx="335.0" cy="291.0" r="2.55" fill="url(#gFRRAC)"/>
<circle cx="342.8" cy="282.4" r="2.55" fill="url(#gFRRAC)"/>
<circle cx="343.5" cy="280.4" r="2.55" fill="url(#gFRRAC)"/>
<circle cx="340.6" cy="289.9" r="2.55" fill="url(#gFRRAC)"/>
<circle cx="324.6" cy="300.8" r="2.55" fill="url(#gFRRAC)"/>
<circle cx="346.5" cy="284.8" r="2.55" fill="url(#gFRRAC)"/>
<circle cx="332.6" cy="295.7" r="2.55" fill="url(#gFRRAC)"/>
</g>
<line x1="268.5" y1="346.5" x2="441.5" y2="206.5" stroke="#111" stroke-width="1.4" stroke-dasharray="3.6,2.6"/>
<rect x="268.5" y="206.5" width="173.0" height="140.0" fill="none" stroke="#333" stroke-width="1.2"/>
<line x1="275.4" y1="346.5" x2="275.4" y2="349.5" stroke="#333" stroke-width="1"/>
<line x1="265.5" y1="340.9" x2="268.5" y2="340.9" stroke="#333" stroke-width="1"/>
<text x="275.4" y="359.9" text-anchor="middle" class="tk" font-size="12.0">-4</text>
<text x="263.5" y="344.5" text-anchor="end" class="tk" font-size="12.0">-4</text>
<line x1="303.1" y1="346.5" x2="303.1" y2="349.5" stroke="#333" stroke-width="1"/>
<line x1="265.5" y1="318.5" x2="268.5" y2="318.5" stroke="#333" stroke-width="1"/>
<text x="303.1" y="359.9" text-anchor="middle" class="tk" font-size="12.0">-2</text>
<text x="263.5" y="322.1" text-anchor="end" class="tk" font-size="12.0">-2</text>
<line x1="330.8" y1="346.5" x2="330.8" y2="349.5" stroke="#333" stroke-width="1"/>
<line x1="265.5" y1="296.1" x2="268.5" y2="296.1" stroke="#333" stroke-width="1"/>
<text x="330.8" y="359.9" text-anchor="middle" class="tk" font-size="12.0">0</text>
<text x="263.5" y="299.7" text-anchor="end" class="tk" font-size="12.0">0</text>
<line x1="358.5" y1="346.5" x2="358.5" y2="349.5" stroke="#333" stroke-width="1"/>
<line x1="265.5" y1="273.7" x2="268.5" y2="273.7" stroke="#333" stroke-width="1"/>
<text x="358.5" y="359.9" text-anchor="middle" class="tk" font-size="12.0">2</text>
<text x="263.5" y="277.3" text-anchor="end" class="tk" font-size="12.0">2</text>
<line x1="386.1" y1="346.5" x2="386.1" y2="349.5" stroke="#333" stroke-width="1"/>
<line x1="265.5" y1="251.3" x2="268.5" y2="251.3" stroke="#333" stroke-width="1"/>
<text x="386.1" y="359.9" text-anchor="middle" class="tk" font-size="12.0">4</text>
<text x="263.5" y="254.9" text-anchor="end" class="tk" font-size="12.0">4</text>
<line x1="413.8" y1="346.5" x2="413.8" y2="349.5" stroke="#333" stroke-width="1"/>
<line x1="265.5" y1="228.9" x2="268.5" y2="228.9" stroke="#333" stroke-width="1"/>
<text x="413.8" y="359.9" text-anchor="middle" class="tk" font-size="12.0">6</text>
<text x="263.5" y="232.5" text-anchor="end" class="tk" font-size="12.0">6</text>
<line x1="441.5" y1="346.5" x2="441.5" y2="349.5" stroke="#333" stroke-width="1"/>
<line x1="265.5" y1="206.5" x2="268.5" y2="206.5" stroke="#333" stroke-width="1"/>
<text x="441.5" y="359.9" text-anchor="middle" class="tk" font-size="12.0">8</text>
<text x="263.5" y="210.1" text-anchor="end" class="tk" font-size="12.0">8</text>
<line x1="289.3" y1="346.5" x2="289.3" y2="348.5" stroke="#333" stroke-width="0.9"/>
<line x1="266.5" y1="329.7" x2="268.5" y2="329.7" stroke="#333" stroke-width="0.9"/>
<line x1="316.9" y1="346.5" x2="316.9" y2="348.5" stroke="#333" stroke-width="0.9"/>
<line x1="266.5" y1="307.3" x2="268.5" y2="307.3" stroke="#333" stroke-width="0.9"/>
<line x1="344.6" y1="346.5" x2="344.6" y2="348.5" stroke="#333" stroke-width="0.9"/>
<line x1="266.5" y1="284.9" x2="268.5" y2="284.9" stroke="#333" stroke-width="0.9"/>
<line x1="372.3" y1="346.5" x2="372.3" y2="348.5" stroke="#333" stroke-width="0.9"/>
<line x1="266.5" y1="262.5" x2="268.5" y2="262.5" stroke="#333" stroke-width="0.9"/>
<line x1="400.0" y1="346.5" x2="400.0" y2="348.5" stroke="#333" stroke-width="0.9"/>
<line x1="266.5" y1="240.1" x2="268.5" y2="240.1" stroke="#333" stroke-width="0.9"/>
<line x1="427.7" y1="346.5" x2="427.7" y2="348.5" stroke="#333" stroke-width="0.9"/>
<line x1="266.5" y1="217.7" x2="268.5" y2="217.7" stroke="#333" stroke-width="0.9"/>
<text x="355.0" y="371.7" text-anchor="middle" class="al" style="font-size:11.8px">True MLR (%)</text>
<text transform="translate(252,276.5) rotate(-90)" text-anchor="middle" class="al">Predicted MLR (%)</text>
<circle cx="277" cy="216.0" r="2.5" fill="url(#gNC)"/>
<text x="284.3" y="219.1" class="lg">NC</text>
<circle cx="277" cy="226.9" r="2.5" fill="url(#gNRC)"/>
<text x="284.3" y="230.0" class="lg">NRC</text>
<circle cx="277" cy="237.8" r="2.5" fill="url(#gFRC)"/>
<text x="284.3" y="240.9" class="lg">FRC</text>
<circle cx="277" cy="248.8" r="2.5" fill="url(#gRAC)"/>
<text x="284.3" y="251.9" class="lg">RAC</text>
<circle cx="277" cy="259.7" r="2.5" fill="url(#gFRRAC)"/>
<text x="284.3" y="262.8" class="lg">FRRAC</text>
<text x="353.6" y="222.5" class="r2"><tspan font-style="italic">R</tspan><tspan dy="-4.5" font-size="7.5">2</tspan><tspan dy="4.5">=0.93</tspan></text>
<rect x="383.5" y="326.2" width="56.19999999999999" height="17.80000000000001" fill="#111"/>
<rect x="382.2" y="324.9" width="56.19999999999999" height="17.80000000000001" fill="#f4f2cb" stroke="#bbb" stroke-width="0.5"/>
<text x="410.3" y="337.6" text-anchor="middle" class="bx">MSA-Test</text>
<text x="239" y="211.6" class="pl">e</text>
<clipPath id="cpg"><rect x="42.5" y="393.5" width="176.0" height="141.0"/></clipPath>
<g clip-path="url(#cpg)">
<circle cx="138.5" cy="434.9" r="2.55" fill="url(#gNC)"/>
<circle cx="98.4" cy="436.0" r="2.55" fill="url(#gNC)"/>
<circle cx="198.0" cy="437.7" r="2.55" fill="url(#gNC)"/>
<circle cx="185.1" cy="435.6" r="2.55" fill="url(#gNC)"/>
<circle cx="183.5" cy="449.7" r="2.55" fill="url(#gNC)"/>
<circle cx="181.1" cy="464.6" r="2.55" fill="url(#gNC)"/>
<circle cx="117.2" cy="445.0" r="2.55" fill="url(#gNC)"/>
<circle cx="82.2" cy="477.5" r="2.55" fill="url(#gNC)"/>
<circle cx="75.8" cy="484.4" r="2.55" fill="url(#gNC)"/>
<circle cx="84.0" cy="484.1" r="2.55" fill="url(#gNC)"/>
<circle cx="84.0" cy="487.0" r="2.55" fill="url(#gNC)"/>
<circle cx="75.8" cy="491.3" r="2.55" fill="url(#gNC)"/>
<circle cx="71.6" cy="493.5" r="2.55" fill="url(#gNC)"/>
<circle cx="75.8" cy="497.7" r="2.55" fill="url(#gNC)"/>
<circle cx="106.7" cy="456.5" r="2.55" fill="url(#gNC)"/>
<circle cx="111.3" cy="461.8" r="2.55" fill="url(#gNC)"/>
<circle cx="94.9" cy="472.6" r="2.55" fill="url(#gNC)"/>
<circle cx="106.7" cy="471.2" r="2.55" fill="url(#gNC)"/>
<circle cx="110.7" cy="479.1" r="2.55" fill="url(#gNC)"/>
<circle cx="115.0" cy="484.4" r="2.55" fill="url(#gNC)"/>
<circle cx="119.2" cy="476.5" r="2.55" fill="url(#gNC)"/>
<circle cx="115.9" cy="472.6" r="2.55" fill="url(#gNC)"/>
<circle cx="183.6" cy="430.2" r="2.55" fill="url(#gNC)"/>
<circle cx="170.9" cy="447.6" r="2.55" fill="url(#gNC)"/>
<circle cx="145.8" cy="438.9" r="2.55" fill="url(#gNC)"/>
<circle cx="139.2" cy="442.0" r="2.55" fill="url(#gNC)"/>
<circle cx="137.7" cy="447.6" r="2.55" fill="url(#gNC)"/>
<circle cx="144.3" cy="462.4" r="2.55" fill="url(#gNC)"/>
<circle cx="140.1" cy="465.8" r="2.55" fill="url(#gNC)"/>
<circle cx="133.7" cy="469.0" r="2.55" fill="url(#gNC)"/>
<circle cx="168.2" cy="429.7" r="2.55" fill="url(#gNC)"/>
<circle cx="120.9" cy="455.3" r="2.55" fill="url(#gNRC)"/>
<circle cx="122.5" cy="471.4" r="2.55" fill="url(#gNRC)"/>
<circle cx="140.2" cy="444.5" r="2.55" fill="url(#gNRC)"/>
<circle cx="157.1" cy="447.1" r="2.55" fill="url(#gNRC)"/>
<circle cx="149.9" cy="455.3" r="2.55" fill="url(#gNRC)"/>
<circle cx="152.2" cy="435.6" r="2.55" fill="url(#gFRC)"/>
<circle cx="181.9" cy="432.0" r="2.55" fill="url(#gFRC)"/>
<circle cx="88.3" cy="461.8" r="2.55" fill="url(#gFRC)"/>
<circle cx="84.0" cy="471.9" r="2.55" fill="url(#gFRC)"/>
<circle cx="59.4" cy="484.1" r="2.55" fill="url(#gFRC)"/>
<circle cx="77.8" cy="487.0" r="2.55" fill="url(#gFRC)"/>
<circle cx="63.4" cy="497.0" r="2.55" fill="url(#gFRC)"/>
<circle cx="77.8" cy="501.5" r="2.55" fill="url(#gFRC)"/>
<circle cx="102.8" cy="462.0" r="2.55" fill="url(#gFRC)"/>
<circle cx="111.1" cy="466.0" r="2.55" fill="url(#gFRC)"/>
<circle cx="96.6" cy="469.7" r="2.55" fill="url(#gFRC)"/>
<circle cx="100.8" cy="469.7" r="2.55" fill="url(#gFRC)"/>
<circle cx="94.5" cy="475.8" r="2.55" fill="url(#gFRC)"/>
<circle cx="98.8" cy="475.8" r="2.55" fill="url(#gFRC)"/>
<circle cx="107.1" cy="474.5" r="2.55" fill="url(#gFRC)"/>
<circle cx="104.8" cy="477.8" r="2.55" fill="url(#gFRC)"/>
<circle cx="102.8" cy="480.4" r="2.55" fill="url(#gFRC)"/>
<circle cx="98.8" cy="482.4" r="2.55" fill="url(#gFRC)"/>
<circle cx="119.2" cy="479.8" r="2.55" fill="url(#gFRC)"/>
<circle cx="112.9" cy="487.7" r="2.55" fill="url(#gFRC)"/>
<circle cx="98.6" cy="492.3" r="2.55" fill="url(#gFRC)"/>
<circle cx="119.2" cy="469.9" r="2.55" fill="url(#gFRC)"/>
<circle cx="125.1" cy="473.9" r="2.55" fill="url(#gFRC)"/>
<circle cx="127.1" cy="456.1" r="2.55" fill="url(#gFRC)"/>
<circle cx="117.2" cy="462.7" r="2.55" fill="url(#gFRC)"/>
<circle cx="116.9" cy="468.2" r="2.55" fill="url(#gFRC)"/>
<circle cx="124.1" cy="461.0" r="2.55" fill="url(#gFRC)"/>
<circle cx="128.1" cy="462.6" r="2.55" fill="url(#gFRC)"/>
<circle cx="181.1" cy="434.3" r="2.55" fill="url(#gFRC)"/>
<circle cx="166.8" cy="448.1" r="2.55" fill="url(#gFRC)"/>
<circle cx="164.7" cy="443.0" r="2.55" fill="url(#gFRC)"/>
<circle cx="168.8" cy="440.4" r="2.55" fill="url(#gFRC)"/>
<circle cx="171.0" cy="439.0" r="2.55" fill="url(#gFRC)"/>
<circle cx="142.3" cy="439.9" r="2.55" fill="url(#gFRC)"/>
<circle cx="142.3" cy="448.1" r="2.55" fill="url(#gFRC)"/>
<circle cx="146.3" cy="448.6" r="2.55" fill="url(#gFRC)"/>
<circle cx="151.5" cy="447.1" r="2.55" fill="url(#gFRC)"/>
<circle cx="162.7" cy="455.8" r="2.55" fill="url(#gFRC)"/>
<circle cx="143.3" cy="453.2" r="2.55" fill="url(#gFRC)"/>
<circle cx="134.1" cy="453.7" r="2.55" fill="url(#gFRC)"/>
<circle cx="133.1" cy="456.8" r="2.55" fill="url(#gFRC)"/>
<circle cx="166.1" cy="439.9" r="2.55" fill="url(#gFRC)"/>
<circle cx="106.7" cy="435.6" r="2.55" fill="url(#gRAC)"/>
<circle cx="119.3" cy="435.6" r="2.55" fill="url(#gRAC)"/>
<circle cx="124.9" cy="435.6" r="2.55" fill="url(#gRAC)"/>
<circle cx="127.6" cy="438.5" r="2.55" fill="url(#gRAC)"/>
<circle cx="135.7" cy="434.9" r="2.55" fill="url(#gRAC)"/>
<circle cx="146.6" cy="433.2" r="2.55" fill="url(#gRAC)"/>
<circle cx="149.0" cy="433.7" r="2.55" fill="url(#gRAC)"/>
<circle cx="156.2" cy="433.7" r="2.55" fill="url(#gRAC)"/>
<circle cx="102.9" cy="447.6" r="2.55" fill="url(#gRAC)"/>
<circle cx="127.1" cy="448.2" r="2.55" fill="url(#gRAC)"/>
<circle cx="55.1" cy="468.9" r="2.55" fill="url(#gRAC)"/>
<circle cx="86.4" cy="464.0" r="2.55" fill="url(#gRAC)"/>
<circle cx="84.0" cy="468.9" r="2.55" fill="url(#gRAC)"/>
<circle cx="107.1" cy="466.6" r="2.55" fill="url(#gRAC)"/>
<circle cx="115.0" cy="468.0" r="2.55" fill="url(#gRAC)"/>
<circle cx="115.0" cy="470.6" r="2.55" fill="url(#gRAC)"/>
<circle cx="121.2" cy="457.4" r="2.55" fill="url(#gRAC)"/>
<circle cx="123.1" cy="463.4" r="2.55" fill="url(#gRAC)"/>
<circle cx="127.1" cy="460.7" r="2.55" fill="url(#gRAC)"/>
<circle cx="128.9" cy="459.3" r="2.55" fill="url(#gRAC)"/>
<circle cx="123.3" cy="466.6" r="2.55" fill="url(#gRAC)"/>
<circle cx="160.7" cy="435.3" r="2.55" fill="url(#gRAC)"/>
<circle cx="177.0" cy="430.7" r="2.55" fill="url(#gRAC)"/>
<circle cx="178.0" cy="434.3" r="2.55" fill="url(#gRAC)"/>
<circle cx="175.0" cy="436.3" r="2.55" fill="url(#gRAC)"/>
<circle cx="172.9" cy="437.9" r="2.55" fill="url(#gRAC)"/>
<circle cx="162.7" cy="438.4" r="2.55" fill="url(#gRAC)"/>
<circle cx="160.7" cy="443.5" r="2.55" fill="url(#gRAC)"/>
<circle cx="154.5" cy="445.5" r="2.55" fill="url(#gRAC)"/>
<circle cx="149.9" cy="443.5" r="2.55" fill="url(#gRAC)"/>
<circle cx="145.8" cy="444.5" r="2.55" fill="url(#gRAC)"/>
<circle cx="159.6" cy="448.1" r="2.55" fill="url(#gRAC)"/>
<circle cx="157.6" cy="451.7" r="2.55" fill="url(#gRAC)"/>
<circle cx="160.7" cy="450.7" r="2.55" fill="url(#gRAC)"/>
<circle cx="154.5" cy="455.8" r="2.55" fill="url(#gRAC)"/>
<circle cx="145.8" cy="455.3" r="2.55" fill="url(#gRAC)"/>
<circle cx="138.2" cy="454.7" r="2.55" fill="url(#gRAC)"/>
<circle cx="140.2" cy="456.3" r="2.55" fill="url(#gRAC)"/>
<circle cx="131.5" cy="459.9" r="2.55" fill="url(#gRAC)"/>
<circle cx="136.1" cy="461.9" r="2.55" fill="url(#gRAC)"/>
<circle cx="136.9" cy="456.9" r="2.55" fill="url(#gRAC)"/>
<circle cx="163.7" cy="432.8" r="2.55" fill="url(#gFRRAC)"/>
<circle cx="166.8" cy="431.8" r="2.55" fill="url(#gFRRAC)"/>
<circle cx="169.9" cy="431.2" r="2.55" fill="url(#gFRRAC)"/>
<circle cx="172.9" cy="430.7" r="2.55" fill="url(#gFRRAC)"/>
<circle cx="175.5" cy="430.2" r="2.55" fill="url(#gFRRAC)"/>
<circle cx="175.0" cy="432.8" r="2.55" fill="url(#gFRRAC)"/>
<circle cx="171.9" cy="433.8" r="2.55" fill="url(#gFRRAC)"/>
<circle cx="168.8" cy="434.3" r="2.55" fill="url(#gFRRAC)"/>
<circle cx="165.0" cy="436.0" r="2.55" fill="url(#gFRRAC)"/>
<circle cx="155.5" cy="440.4" r="2.55" fill="url(#gFRRAC)"/>
<circle cx="160.1" cy="438.4" r="2.55" fill="url(#gFRRAC)"/>
<circle cx="160.7" cy="436.3" r="2.55" fill="url(#gFRRAC)"/>
<circle cx="131.5" cy="448.1" r="2.55" fill="url(#gFRRAC)"/>
<circle cx="150.4" cy="450.7" r="2.55" fill="url(#gFRRAC)"/>
</g>
<line x1="42.5" y1="534.5" x2="218.5" y2="393.5" stroke="#111" stroke-width="1.4" stroke-dasharray="3.6,2.6"/>
<rect x="42.5" y="393.5" width="176.0" height="141.0" fill="none" stroke="#333" stroke-width="1.2"/>
<line x1="63.2" y1="534.5" x2="63.2" y2="537.5" stroke="#333" stroke-width="1"/>
<line x1="39.5" y1="517.9" x2="42.5" y2="517.9" stroke="#333" stroke-width="1"/>
<text x="63.2" y="547.9" text-anchor="middle" class="tk" font-size="12.2">0.45</text>
<text x="37.5" y="521.5" text-anchor="end" class="tk" font-size="12.2">0.45</text>
<line x1="94.3" y1="534.5" x2="94.3" y2="537.5" stroke="#333" stroke-width="1"/>
<line x1="39.5" y1="493.0" x2="42.5" y2="493.0" stroke="#333" stroke-width="1"/>
<text x="94.3" y="547.9" text-anchor="middle" class="tk" font-size="12.2">0.60</text>
<text x="37.5" y="496.6" text-anchor="end" class="tk" font-size="12.2">0.60</text>
<line x1="125.3" y1="534.5" x2="125.3" y2="537.5" stroke="#333" stroke-width="1"/>
<line x1="39.5" y1="468.1" x2="42.5" y2="468.1" stroke="#333" stroke-width="1"/>
<text x="125.3" y="547.9" text-anchor="middle" class="tk" font-size="12.2">0.75</text>
<text x="37.5" y="471.7" text-anchor="end" class="tk" font-size="12.2">0.75</text>
<line x1="156.4" y1="534.5" x2="156.4" y2="537.5" stroke="#333" stroke-width="1"/>
<line x1="39.5" y1="443.3" x2="42.5" y2="443.3" stroke="#333" stroke-width="1"/>
<text x="156.4" y="547.9" text-anchor="middle" class="tk" font-size="12.2">0.90</text>
<text x="37.5" y="446.9" text-anchor="end" class="tk" font-size="12.2">0.90</text>
<line x1="187.4" y1="534.5" x2="187.4" y2="537.5" stroke="#333" stroke-width="1"/>
<line x1="39.5" y1="418.4" x2="42.5" y2="418.4" stroke="#333" stroke-width="1"/>
<text x="187.4" y="547.9" text-anchor="middle" class="tk" font-size="12.2">1.05</text>
<text x="37.5" y="422.0" text-anchor="end" class="tk" font-size="12.2">1.05</text>
<line x1="218.5" y1="534.5" x2="218.5" y2="537.5" stroke="#333" stroke-width="1"/>
<line x1="39.5" y1="393.5" x2="42.5" y2="393.5" stroke="#333" stroke-width="1"/>
<text x="218.5" y="547.9" text-anchor="middle" class="tk" font-size="12.2">1.20</text>
<text x="37.5" y="397.1" text-anchor="end" class="tk" font-size="12.2">1.20</text>
<line x1="47.7" y1="534.5" x2="47.7" y2="536.5" stroke="#333" stroke-width="0.9"/>
<line x1="40.5" y1="530.4" x2="42.5" y2="530.4" stroke="#333" stroke-width="0.9"/>
<line x1="78.7" y1="534.5" x2="78.7" y2="536.5" stroke="#333" stroke-width="0.9"/>
<line x1="40.5" y1="505.5" x2="42.5" y2="505.5" stroke="#333" stroke-width="0.9"/>
<line x1="109.8" y1="534.5" x2="109.8" y2="536.5" stroke="#333" stroke-width="0.9"/>
<line x1="40.5" y1="480.6" x2="42.5" y2="480.6" stroke="#333" stroke-width="0.9"/>
<line x1="140.9" y1="534.5" x2="140.9" y2="536.5" stroke="#333" stroke-width="0.9"/>
<line x1="40.5" y1="455.7" x2="42.5" y2="455.7" stroke="#333" stroke-width="0.9"/>
<line x1="171.9" y1="534.5" x2="171.9" y2="536.5" stroke="#333" stroke-width="0.9"/>
<line x1="40.5" y1="430.8" x2="42.5" y2="430.8" stroke="#333" stroke-width="0.9"/>
<line x1="203.0" y1="534.5" x2="203.0" y2="536.5" stroke="#333" stroke-width="0.9"/>
<line x1="40.5" y1="405.9" x2="42.5" y2="405.9" stroke="#333" stroke-width="0.9"/>
<text x="134.0" y="560.1" text-anchor="middle" class="al" style="font-size:12.2px">True RDME</text>
<text transform="translate(14,469.3) rotate(-90)" text-anchor="middle" class="al">Predicted RDME</text>
<circle cx="50.1" cy="401.6" r="2.5" fill="url(#gNC)"/>
<text x="57.4" y="404.7" class="lg">NC</text>
<circle cx="50.1" cy="412.5" r="2.5" fill="url(#gNRC)"/>
<text x="57.4" y="415.6" class="lg">NRC</text>
<circle cx="50.1" cy="423.4" r="2.5" fill="url(#gFRC)"/>
<text x="57.4" y="426.5" class="lg">FRC</text>
<circle cx="50.1" cy="434.4" r="2.5" fill="url(#gRAC)"/>
<text x="57.4" y="437.5" class="lg">RAC</text>
<circle cx="50.1" cy="445.3" r="2.5" fill="url(#gFRRAC)"/>
<text x="57.4" y="448.4" class="lg">FRRAC</text>
<text x="130.1" y="410.2" class="r2"><tspan font-style="italic">R</tspan><tspan dy="-4.5" font-size="7.5">2</tspan><tspan dy="4.5">=0.75</tspan></text>
<rect x="160.5" y="515.0" width="56.70000000000002" height="18.699999999999932" fill="#111"/>
<rect x="159.2" y="513.7" width="56.70000000000002" height="18.699999999999932" fill="#f4f2cb" stroke="#bbb" stroke-width="0.5"/>
<text x="187.6" y="527.0" text-anchor="middle" class="bx">DNN-Test</text>
<text x="2.8" y="400.4" class="pl">g</text>
<clipPath id="cph"><rect x="268.5" y="393.5" width="176.0" height="141.0"/></clipPath>
<g clip-path="url(#cph)">
<circle cx="423.9" cy="423.4" r="2.55" fill="url(#gNC)"/>
<circle cx="411.5" cy="423.1" r="2.55" fill="url(#gNC)"/>
<circle cx="372.4" cy="427.7" r="2.55" fill="url(#gNC)"/>
<circle cx="409.6" cy="429.9" r="2.55" fill="url(#gNC)"/>
<circle cx="409.6" cy="434.9" r="2.55" fill="url(#gNC)"/>
<circle cx="396.9" cy="444.2" r="2.55" fill="url(#gNC)"/>
<circle cx="407.1" cy="456.6" r="2.55" fill="url(#gNC)"/>
<circle cx="357.5" cy="451.0" r="2.55" fill="url(#gNC)"/>
<circle cx="364.3" cy="452.2" r="2.55" fill="url(#gNC)"/>
<circle cx="366.2" cy="463.4" r="2.55" fill="url(#gNC)"/>
<circle cx="301.8" cy="489.9" r="2.55" fill="url(#gNC)"/>
<circle cx="310.1" cy="495.5" r="2.55" fill="url(#gNC)"/>
<circle cx="301.8" cy="499.9" r="2.55" fill="url(#gNC)"/>
<circle cx="310.1" cy="503.9" r="2.55" fill="url(#gNC)"/>
<circle cx="301.8" cy="506.9" r="2.55" fill="url(#gNC)"/>
<circle cx="297.7" cy="508.6" r="2.55" fill="url(#gNC)"/>
<circle cx="307.7" cy="482.3" r="2.55" fill="url(#gNC)"/>
<circle cx="320.4" cy="482.3" r="2.55" fill="url(#gNC)"/>
<circle cx="328.7" cy="488.2" r="2.55" fill="url(#gNC)"/>
<circle cx="337.2" cy="482.3" r="2.55" fill="url(#gNC)"/>
<circle cx="341.2" cy="488.2" r="2.55" fill="url(#gNC)"/>
<circle cx="345.2" cy="484.5" r="2.55" fill="url(#gNC)"/>
<circle cx="353.9" cy="475.0" r="2.55" fill="url(#gNC)"/>
<circle cx="359.8" cy="473.6" r="2.55" fill="url(#gNC)"/>
<circle cx="324.5" cy="457.8" r="2.55" fill="url(#gNC)"/>
<circle cx="333.1" cy="456.4" r="2.55" fill="url(#gNC)"/>
<circle cx="337.2" cy="461.2" r="2.55" fill="url(#gNC)"/>
<circle cx="343.3" cy="452.0" r="2.55" fill="url(#gNC)"/>
<circle cx="374.2" cy="439.8" r="2.55" fill="url(#gNRC)"/>
<circle cx="374.2" cy="458.4" r="2.55" fill="url(#gNRC)"/>
<circle cx="365.5" cy="464.0" r="2.55" fill="url(#gNRC)"/>
<circle cx="333.1" cy="488.2" r="2.55" fill="url(#gNRC)"/>
<circle cx="402.8" cy="423.7" r="2.55" fill="url(#gFRC)"/>
<circle cx="407.1" cy="427.4" r="2.55" fill="url(#gFRC)"/>
<circle cx="407.7" cy="431.1" r="2.55" fill="url(#gFRC)"/>
<circle cx="405.3" cy="435.5" r="2.55" fill="url(#gFRC)"/>
<circle cx="393.5" cy="439.2" r="2.55" fill="url(#gFRC)"/>
<circle cx="390.4" cy="441.7" r="2.55" fill="url(#gFRC)"/>
<circle cx="367.4" cy="444.8" r="2.55" fill="url(#gFRC)"/>
<circle cx="369.9" cy="447.3" r="2.55" fill="url(#gFRC)"/>
<circle cx="363.7" cy="447.9" r="2.55" fill="url(#gFRC)"/>
<circle cx="374.2" cy="452.2" r="2.55" fill="url(#gFRC)"/>
<circle cx="366.8" cy="451.0" r="2.55" fill="url(#gFRC)"/>
<circle cx="371.8" cy="461.5" r="2.55" fill="url(#gFRC)"/>
<circle cx="390.7" cy="461.3" r="2.55" fill="url(#gFRC)"/>
<circle cx="360.0" cy="457.8" r="2.55" fill="url(#gFRC)"/>
<circle cx="358.7" cy="464.6" r="2.55" fill="url(#gFRC)"/>
<circle cx="361.8" cy="470.8" r="2.55" fill="url(#gFRC)"/>
<circle cx="356.9" cy="467.1" r="2.55" fill="url(#gFRC)"/>
<circle cx="303.9" cy="495.5" r="2.55" fill="url(#gFRC)"/>
<circle cx="303.9" cy="511.2" r="2.55" fill="url(#gFRC)"/>
<circle cx="285.3" cy="514.5" r="2.55" fill="url(#gFRC)"/>
<circle cx="288.0" cy="513.0" r="2.55" fill="url(#gFRC)"/>
<circle cx="324.3" cy="505.4" r="2.55" fill="url(#gFRC)"/>
<circle cx="310.1" cy="483.5" r="2.55" fill="url(#gFRC)"/>
<circle cx="314.5" cy="480.9" r="2.55" fill="url(#gFRC)"/>
<circle cx="320.4" cy="486.4" r="2.55" fill="url(#gFRC)"/>
<circle cx="322.6" cy="478.7" r="2.55" fill="url(#gFRC)"/>
<circle cx="326.2" cy="480.9" r="2.55" fill="url(#gFRC)"/>
<circle cx="329.9" cy="483.1" r="2.55" fill="url(#gFRC)"/>
<circle cx="333.5" cy="483.5" r="2.55" fill="url(#gFRC)"/>
<circle cx="339.3" cy="491.1" r="2.55" fill="url(#gFRC)"/>
<circle cx="345.2" cy="496.9" r="2.55" fill="url(#gFRC)"/>
<circle cx="351.8" cy="492.8" r="2.55" fill="url(#gFRC)"/>
<circle cx="324.3" cy="471.0" r="2.55" fill="url(#gFRC)"/>
<circle cx="328.7" cy="468.9" r="2.55" fill="url(#gFRC)"/>
<circle cx="337.2" cy="473.6" r="2.55" fill="url(#gFRC)"/>
<circle cx="337.2" cy="476.5" r="2.55" fill="url(#gFRC)"/>
<circle cx="341.2" cy="479.4" r="2.55" fill="url(#gFRC)"/>
<circle cx="343.7" cy="467.0" r="2.55" fill="url(#gFRC)"/>
<circle cx="346.6" cy="463.4" r="2.55" fill="url(#gFRC)"/>
<circle cx="349.6" cy="458.2" r="2.55" fill="url(#gFRC)"/>
<circle cx="361.7" cy="466.3" r="2.55" fill="url(#gFRC)"/>
<circle cx="400.5" cy="425.3" r="2.55" fill="url(#gFRC)"/>
<circle cx="395.4" cy="438.1" r="2.55" fill="url(#gFRC)"/>
<circle cx="380.8" cy="447.9" r="2.55" fill="url(#gFRC)"/>
<circle cx="376.5" cy="451.6" r="2.55" fill="url(#gFRC)"/>
<circle cx="372.4" cy="433.9" r="2.55" fill="url(#gRAC)"/>
<circle cx="402.2" cy="428.6" r="2.55" fill="url(#gRAC)"/>
<circle cx="403.4" cy="431.1" r="2.55" fill="url(#gRAC)"/>
<circle cx="399.1" cy="436.7" r="2.55" fill="url(#gRAC)"/>
<circle cx="387.3" cy="439.8" r="2.55" fill="url(#gRAC)"/>
<circle cx="384.8" cy="444.8" r="2.55" fill="url(#gRAC)"/>
<circle cx="386.6" cy="449.7" r="2.55" fill="url(#gRAC)"/>
<circle cx="380.4" cy="447.9" r="2.55" fill="url(#gRAC)"/>
<circle cx="374.2" cy="442.9" r="2.55" fill="url(#gRAC)"/>
<circle cx="372.4" cy="449.1" r="2.55" fill="url(#gRAC)"/>
<circle cx="380.4" cy="456.6" r="2.55" fill="url(#gRAC)"/>
<circle cx="366.2" cy="453.5" r="2.55" fill="url(#gRAC)"/>
<circle cx="368.6" cy="457.8" r="2.55" fill="url(#gRAC)"/>
<circle cx="364.3" cy="459.1" r="2.55" fill="url(#gRAC)"/>
<circle cx="360.0" cy="462.2" r="2.55" fill="url(#gRAC)"/>
<circle cx="356.9" cy="460.9" r="2.55" fill="url(#gRAC)"/>
<circle cx="362.4" cy="465.3" r="2.55" fill="url(#gRAC)"/>
<circle cx="356.2" cy="470.8" r="2.55" fill="url(#gRAC)"/>
<circle cx="281.0" cy="494.3" r="2.55" fill="url(#gRAC)"/>
<circle cx="310.1" cy="491.1" r="2.55" fill="url(#gRAC)"/>
<circle cx="312.3" cy="476.5" r="2.55" fill="url(#gRAC)"/>
<circle cx="328.7" cy="478.7" r="2.55" fill="url(#gRAC)"/>
<circle cx="333.1" cy="467.0" r="2.55" fill="url(#gRAC)"/>
<circle cx="333.1" cy="472.4" r="2.55" fill="url(#gRAC)"/>
<circle cx="341.2" cy="474.7" r="2.55" fill="url(#gRAC)"/>
<circle cx="345.2" cy="479.4" r="2.55" fill="url(#gRAC)"/>
<circle cx="341.2" cy="469.9" r="2.55" fill="url(#gRAC)"/>
<circle cx="347.4" cy="470.7" r="2.55" fill="url(#gRAC)"/>
<circle cx="349.6" cy="464.1" r="2.55" fill="url(#gRAC)"/>
<circle cx="351.8" cy="476.5" r="2.55" fill="url(#gRAC)"/>
<circle cx="353.2" cy="457.5" r="2.55" fill="url(#gRAC)"/>
<circle cx="353.9" cy="467.0" r="2.55" fill="url(#gRAC)"/>
<circle cx="362.0" cy="461.9" r="2.55" fill="url(#gRAC)"/>
<circle cx="366.4" cy="457.5" r="2.55" fill="url(#gRAC)"/>
<circle cx="384.5" cy="442.8" r="2.55" fill="url(#gRAC)"/>
<circle cx="388.1" cy="444.8" r="2.55" fill="url(#gRAC)"/>
<circle cx="376.5" cy="442.8" r="2.55" fill="url(#gRAC)"/>
<circle cx="375.7" cy="447.2" r="2.55" fill="url(#gRAC)"/>
<circle cx="393.2" cy="427.5" r="2.55" fill="url(#gRAC)"/>
<circle cx="390.3" cy="428.2" r="2.55" fill="url(#gRAC)"/>
<circle cx="392.2" cy="429.9" r="2.55" fill="url(#gFRRAC)"/>
<circle cx="396.0" cy="428.6" r="2.55" fill="url(#gFRRAC)"/>
<circle cx="399.1" cy="427.4" r="2.55" fill="url(#gFRRAC)"/>
<circle cx="388.5" cy="432.4" r="2.55" fill="url(#gFRRAC)"/>
<circle cx="394.7" cy="432.4" r="2.55" fill="url(#gFRRAC)"/>
<circle cx="397.8" cy="434.9" r="2.55" fill="url(#gFRRAC)"/>
<circle cx="392.2" cy="436.1" r="2.55" fill="url(#gFRRAC)"/>
<circle cx="382.3" cy="437.3" r="2.55" fill="url(#gFRRAC)"/>
<circle cx="384.8" cy="441.1" r="2.55" fill="url(#gFRRAC)"/>
<circle cx="379.8" cy="442.3" r="2.55" fill="url(#gFRRAC)"/>
<circle cx="377.3" cy="446.0" r="2.55" fill="url(#gFRRAC)"/>
<circle cx="387.0" cy="435.0" r="2.55" fill="url(#gFRRAC)"/>
<circle cx="357.5" cy="454.7" r="2.55" fill="url(#gFRRAC)"/>
<circle cx="388.9" cy="437.0" r="2.55" fill="url(#gFRRAC)"/>
<circle cx="381.6" cy="441.4" r="2.55" fill="url(#gFRRAC)"/>
<circle cx="388.1" cy="441.4" r="2.55" fill="url(#gFRRAC)"/>
</g>
<line x1="268.5" y1="534.5" x2="444.5" y2="393.5" stroke="#111" stroke-width="1.4" stroke-dasharray="3.6,2.6"/>
<rect x="268.5" y="393.5" width="176.0" height="141.0" fill="none" stroke="#333" stroke-width="1.2"/>
<line x1="289.2" y1="534.5" x2="289.2" y2="537.5" stroke="#333" stroke-width="1"/>
<line x1="265.5" y1="517.9" x2="268.5" y2="517.9" stroke="#333" stroke-width="1"/>
<text x="289.2" y="547.9" text-anchor="middle" class="tk" font-size="12.2">0.45</text>
<text x="263.5" y="521.5" text-anchor="end" class="tk" font-size="12.2">0.45</text>
<line x1="320.3" y1="534.5" x2="320.3" y2="537.5" stroke="#333" stroke-width="1"/>
<line x1="265.5" y1="493.0" x2="268.5" y2="493.0" stroke="#333" stroke-width="1"/>
<text x="320.3" y="547.9" text-anchor="middle" class="tk" font-size="12.2">0.60</text>
<text x="263.5" y="496.6" text-anchor="end" class="tk" font-size="12.2">0.60</text>
<line x1="351.3" y1="534.5" x2="351.3" y2="537.5" stroke="#333" stroke-width="1"/>
<line x1="265.5" y1="468.1" x2="268.5" y2="468.1" stroke="#333" stroke-width="1"/>
<text x="351.3" y="547.9" text-anchor="middle" class="tk" font-size="12.2">0.75</text>
<text x="263.5" y="471.7" text-anchor="end" class="tk" font-size="12.2">0.75</text>
<line x1="382.4" y1="534.5" x2="382.4" y2="537.5" stroke="#333" stroke-width="1"/>
<line x1="265.5" y1="443.3" x2="268.5" y2="443.3" stroke="#333" stroke-width="1"/>
<text x="382.4" y="547.9" text-anchor="middle" class="tk" font-size="12.2">0.90</text>
<text x="263.5" y="446.9" text-anchor="end" class="tk" font-size="12.2">0.90</text>
<line x1="413.4" y1="534.5" x2="413.4" y2="537.5" stroke="#333" stroke-width="1"/>
<line x1="265.5" y1="418.4" x2="268.5" y2="418.4" stroke="#333" stroke-width="1"/>
<text x="413.4" y="547.9" text-anchor="middle" class="tk" font-size="12.2">1.05</text>
<text x="263.5" y="422.0" text-anchor="end" class="tk" font-size="12.2">1.05</text>
<line x1="444.5" y1="534.5" x2="444.5" y2="537.5" stroke="#333" stroke-width="1"/>
<line x1="265.5" y1="393.5" x2="268.5" y2="393.5" stroke="#333" stroke-width="1"/>
<text x="444.5" y="547.9" text-anchor="middle" class="tk" font-size="12.2">1.20</text>
<text x="263.5" y="397.1" text-anchor="end" class="tk" font-size="12.2">1.20</text>
<line x1="273.7" y1="534.5" x2="273.7" y2="536.5" stroke="#333" stroke-width="0.9"/>
<line x1="266.5" y1="530.4" x2="268.5" y2="530.4" stroke="#333" stroke-width="0.9"/>
<line x1="304.7" y1="534.5" x2="304.7" y2="536.5" stroke="#333" stroke-width="0.9"/>
<line x1="266.5" y1="505.5" x2="268.5" y2="505.5" stroke="#333" stroke-width="0.9"/>
<line x1="335.8" y1="534.5" x2="335.8" y2="536.5" stroke="#333" stroke-width="0.9"/>
<line x1="266.5" y1="480.6" x2="268.5" y2="480.6" stroke="#333" stroke-width="0.9"/>
<line x1="366.9" y1="534.5" x2="366.9" y2="536.5" stroke="#333" stroke-width="0.9"/>
<line x1="266.5" y1="455.7" x2="268.5" y2="455.7" stroke="#333" stroke-width="0.9"/>
<line x1="397.9" y1="534.5" x2="397.9" y2="536.5" stroke="#333" stroke-width="0.9"/>
<line x1="266.5" y1="430.8" x2="268.5" y2="430.8" stroke="#333" stroke-width="0.9"/>
<line x1="429.0" y1="534.5" x2="429.0" y2="536.5" stroke="#333" stroke-width="0.9"/>
<line x1="266.5" y1="405.9" x2="268.5" y2="405.9" stroke="#333" stroke-width="0.9"/>
<text x="347.4" y="559.7" text-anchor="middle" class="al" style="font-size:12.2px">True RDME</text>
<text transform="translate(240,469.4) rotate(-90)" text-anchor="middle" class="al">Predicted RDME</text>
<circle cx="277" cy="401.8" r="2.5" fill="url(#gNC)"/>
<text x="284.3" y="404.9" class="lg">NC</text>
<circle cx="277" cy="412.7" r="2.5" fill="url(#gNRC)"/>
<text x="284.3" y="415.8" class="lg">NRC</text>
<circle cx="277" cy="423.6" r="2.5" fill="url(#gFRC)"/>
<text x="284.3" y="426.7" class="lg">FRC</text>
<circle cx="277" cy="434.6" r="2.5" fill="url(#gRAC)"/>
<text x="284.3" y="437.7" class="lg">RAC</text>
<circle cx="277" cy="445.5" r="2.5" fill="url(#gFRRAC)"/>
<text x="284.3" y="448.6" class="lg">FRRAC</text>
<text x="355.8" y="410.1" class="r2"><tspan font-style="italic">R</tspan><tspan dy="-4.5" font-size="7.5">2</tspan><tspan dy="4.5">=0.89</tspan></text>
<rect x="378.5" y="514.1999999999999" width="65.0" height="18.399999999999977" fill="#111"/>
<rect x="377.2" y="512.9" width="65.0" height="18.399999999999977" fill="#f4f2cb" stroke="#bbb" stroke-width="0.5"/>
<text x="409.7" y="526.4" text-anchor="middle" class="bx">LSTM-Test</text>
<text x="229" y="400.8" class="pl">h</text>
<clipPath id="cpi"><rect x="496.5" y="393.5" width="176.0" height="141.0"/></clipPath>
<g clip-path="url(#cpi)">
<circle cx="650.9" cy="420.0" r="2.55" fill="url(#gNC)"/>
<circle cx="638.5" cy="420.9" r="2.55" fill="url(#gNC)"/>
<circle cx="637.2" cy="430.8" r="2.55" fill="url(#gNC)"/>
<circle cx="582.6" cy="446.3" r="2.55" fill="url(#gNC)"/>
<circle cx="634.5" cy="464.9" r="2.55" fill="url(#gNC)"/>
<circle cx="590.5" cy="443.2" r="2.55" fill="url(#gNC)"/>
<circle cx="525.1" cy="499.9" r="2.55" fill="url(#gNC)"/>
<circle cx="529.2" cy="492.6" r="2.55" fill="url(#gNC)"/>
<circle cx="529.2" cy="476.2" r="2.55" fill="url(#gNC)"/>
<circle cx="535.3" cy="478.2" r="2.55" fill="url(#gNC)"/>
<circle cx="537.7" cy="491.1" r="2.55" fill="url(#gNC)"/>
<circle cx="537.7" cy="494.0" r="2.55" fill="url(#gNC)"/>
<circle cx="547.9" cy="467.7" r="2.55" fill="url(#gNC)"/>
<circle cx="560.1" cy="460.1" r="2.55" fill="url(#gNC)"/>
<circle cx="564.2" cy="475.0" r="2.55" fill="url(#gNC)"/>
<circle cx="564.2" cy="479.4" r="2.55" fill="url(#gNC)"/>
<circle cx="568.6" cy="482.3" r="2.55" fill="url(#gNC)"/>
<circle cx="570.8" cy="455.3" r="2.55" fill="url(#gNC)"/>
<circle cx="580.3" cy="471.8" r="2.55" fill="url(#gNC)"/>
<circle cx="627.7" cy="422.4" r="2.55" fill="url(#gNC)"/>
<circle cx="593.1" cy="443.2" r="2.55" fill="url(#gNRC)"/>
<circle cx="585.3" cy="453.1" r="2.55" fill="url(#gNRC)"/>
<circle cx="630.6" cy="424.2" r="2.55" fill="url(#gFRC)"/>
<circle cx="633.9" cy="428.1" r="2.55" fill="url(#gFRC)"/>
<circle cx="632.6" cy="432.7" r="2.55" fill="url(#gFRC)"/>
<circle cx="622.0" cy="440.0" r="2.55" fill="url(#gFRC)"/>
<circle cx="618.1" cy="453.1" r="2.55" fill="url(#gFRC)"/>
<circle cx="615.5" cy="443.9" r="2.55" fill="url(#gFRC)"/>
<circle cx="591.2" cy="445.9" r="2.55" fill="url(#gFRC)"/>
<circle cx="595.8" cy="446.5" r="2.55" fill="url(#gFRC)"/>
<circle cx="595.8" cy="450.5" r="2.55" fill="url(#gFRC)"/>
<circle cx="598.4" cy="454.4" r="2.55" fill="url(#gFRC)"/>
<circle cx="583.9" cy="467.6" r="2.55" fill="url(#gFRC)"/>
<circle cx="589.2" cy="468.9" r="2.55" fill="url(#gFRC)"/>
<circle cx="512.4" cy="511.5" r="2.55" fill="url(#gFRC)"/>
<circle cx="516.8" cy="514.2" r="2.55" fill="url(#gFRC)"/>
<circle cx="531.4" cy="495.5" r="2.55" fill="url(#gFRC)"/>
<circle cx="531.4" cy="482.0" r="2.55" fill="url(#gFRC)"/>
<circle cx="537.7" cy="483.1" r="2.55" fill="url(#gFRC)"/>
<circle cx="541.6" cy="484.5" r="2.55" fill="url(#gFRC)"/>
<circle cx="547.9" cy="482.0" r="2.55" fill="url(#gFRC)"/>
<circle cx="551.1" cy="479.4" r="2.55" fill="url(#gFRC)"/>
<circle cx="551.4" cy="469.2" r="2.55" fill="url(#gFRC)"/>
<circle cx="555.5" cy="471.4" r="2.55" fill="url(#gFRC)"/>
<circle cx="554.3" cy="475.0" r="2.55" fill="url(#gFRC)"/>
<circle cx="551.8" cy="488.2" r="2.55" fill="url(#gFRC)"/>
<circle cx="560.1" cy="478.2" r="2.55" fill="url(#gFRC)"/>
<circle cx="564.2" cy="467.0" r="2.55" fill="url(#gFRC)"/>
<circle cx="564.2" cy="471.4" r="2.55" fill="url(#gFRC)"/>
<circle cx="566.4" cy="489.9" r="2.55" fill="url(#gFRC)"/>
<circle cx="568.6" cy="469.9" r="2.55" fill="url(#gFRC)"/>
<circle cx="570.8" cy="463.1" r="2.55" fill="url(#gFRC)"/>
<circle cx="576.6" cy="464.8" r="2.55" fill="url(#gFRC)"/>
<circle cx="625.5" cy="426.0" r="2.55" fill="url(#gFRC)"/>
<circle cx="602.2" cy="448.7" r="2.55" fill="url(#gFRC)"/>
<circle cx="628.6" cy="427.5" r="2.55" fill="url(#gRAC)"/>
<circle cx="626.6" cy="435.4" r="2.55" fill="url(#gRAC)"/>
<circle cx="610.2" cy="436.7" r="2.55" fill="url(#gRAC)"/>
<circle cx="606.3" cy="440.6" r="2.55" fill="url(#gRAC)"/>
<circle cx="613.5" cy="444.6" r="2.55" fill="url(#gRAC)"/>
<circle cx="611.5" cy="449.2" r="2.55" fill="url(#gRAC)"/>
<circle cx="599.7" cy="436.0" r="2.55" fill="url(#gRAC)"/>
<circle cx="599.7" cy="445.2" r="2.55" fill="url(#gRAC)"/>
<circle cx="602.3" cy="445.2" r="2.55" fill="url(#gRAC)"/>
<circle cx="607.6" cy="461.2" r="2.55" fill="url(#gRAC)"/>
<circle cx="589.2" cy="450.5" r="2.55" fill="url(#gRAC)"/>
<circle cx="593.1" cy="453.1" r="2.55" fill="url(#gRAC)"/>
<circle cx="595.8" cy="457.0" r="2.55" fill="url(#gRAC)"/>
<circle cx="589.2" cy="457.0" r="2.55" fill="url(#gRAC)"/>
<circle cx="581.3" cy="450.5" r="2.55" fill="url(#gRAC)"/>
<circle cx="581.3" cy="461.0" r="2.55" fill="url(#gRAC)"/>
<circle cx="591.2" cy="464.9" r="2.55" fill="url(#gRAC)"/>
<circle cx="582.6" cy="472.8" r="2.55" fill="url(#gRAC)"/>
<circle cx="508.5" cy="488.5" r="2.55" fill="url(#gRAC)"/>
<circle cx="539.4" cy="474.3" r="2.55" fill="url(#gRAC)"/>
<circle cx="537.7" cy="487.0" r="2.55" fill="url(#gRAC)"/>
<circle cx="556.2" cy="465.5" r="2.55" fill="url(#gRAC)"/>
<circle cx="560.1" cy="467.0" r="2.55" fill="url(#gRAC)"/>
<circle cx="568.6" cy="465.5" r="2.55" fill="url(#gRAC)"/>
<circle cx="572.7" cy="470.9" r="2.55" fill="url(#gRAC)"/>
<circle cx="574.5" cy="460.4" r="2.55" fill="url(#gRAC)"/>
<circle cx="578.8" cy="457.5" r="2.55" fill="url(#gRAC)"/>
<circle cx="578.8" cy="462.6" r="2.55" fill="url(#gRAC)"/>
<circle cx="590.5" cy="459.0" r="2.55" fill="url(#gRAC)"/>
<circle cx="629.9" cy="431.1" r="2.55" fill="url(#gRAC)"/>
<circle cx="630.7" cy="434.1" r="2.55" fill="url(#gRAC)"/>
<circle cx="609.5" cy="445.0" r="2.55" fill="url(#gRAC)"/>
<circle cx="604.4" cy="453.8" r="2.55" fill="url(#gRAC)"/>
<circle cx="618.2" cy="429.7" r="2.55" fill="url(#gRAC)"/>
<circle cx="624.7" cy="429.5" r="2.55" fill="url(#gFRRAC)"/>
<circle cx="621.4" cy="431.4" r="2.55" fill="url(#gFRRAC)"/>
<circle cx="618.1" cy="432.1" r="2.55" fill="url(#gFRRAC)"/>
<circle cx="623.4" cy="434.7" r="2.55" fill="url(#gFRRAC)"/>
<circle cx="618.1" cy="435.4" r="2.55" fill="url(#gFRRAC)"/>
<circle cx="614.2" cy="434.7" r="2.55" fill="url(#gFRRAC)"/>
<circle cx="611.5" cy="438.7" r="2.55" fill="url(#gFRRAC)"/>
<circle cx="609.6" cy="438.0" r="2.55" fill="url(#gFRRAC)"/>
<circle cx="608.2" cy="446.5" r="2.55" fill="url(#gFRRAC)"/>
<circle cx="603.6" cy="453.1" r="2.55" fill="url(#gFRRAC)"/>
<circle cx="585.3" cy="459.7" r="2.55" fill="url(#gFRRAC)"/>
<circle cx="616.0" cy="437.0" r="2.55" fill="url(#gFRRAC)"/>
<circle cx="627.0" cy="429.7" r="2.55" fill="url(#gFRRAC)"/>
<circle cx="629.2" cy="428.2" r="2.55" fill="url(#gFRRAC)"/>
<circle cx="625.5" cy="432.6" r="2.55" fill="url(#gFRRAC)"/>
<circle cx="616.1" cy="441.4" r="2.55" fill="url(#gFRRAC)"/>
</g>
<line x1="496.5" y1="534.5" x2="672.5" y2="393.5" stroke="#111" stroke-width="1.4" stroke-dasharray="3.6,2.6"/>
<rect x="496.5" y="393.5" width="176.0" height="141.0" fill="none" stroke="#333" stroke-width="1.2"/>
<line x1="517.2" y1="534.5" x2="517.2" y2="537.5" stroke="#333" stroke-width="1"/>
<line x1="493.5" y1="517.9" x2="496.5" y2="517.9" stroke="#333" stroke-width="1"/>
<text x="517.2" y="547.9" text-anchor="middle" class="tk" font-size="12.2">0.45</text>
<text x="491.5" y="521.5" text-anchor="end" class="tk" font-size="12.2">0.45</text>
<line x1="548.3" y1="534.5" x2="548.3" y2="537.5" stroke="#333" stroke-width="1"/>
<line x1="493.5" y1="493.0" x2="496.5" y2="493.0" stroke="#333" stroke-width="1"/>
<text x="548.3" y="547.9" text-anchor="middle" class="tk" font-size="12.2">0.60</text>
<text x="491.5" y="496.6" text-anchor="end" class="tk" font-size="12.2">0.60</text>
<line x1="579.3" y1="534.5" x2="579.3" y2="537.5" stroke="#333" stroke-width="1"/>
<line x1="493.5" y1="468.1" x2="496.5" y2="468.1" stroke="#333" stroke-width="1"/>
<text x="579.3" y="547.9" text-anchor="middle" class="tk" font-size="12.2">0.75</text>
<text x="491.5" y="471.7" text-anchor="end" class="tk" font-size="12.2">0.75</text>
<line x1="610.4" y1="534.5" x2="610.4" y2="537.5" stroke="#333" stroke-width="1"/>
<line x1="493.5" y1="443.3" x2="496.5" y2="443.3" stroke="#333" stroke-width="1"/>
<text x="610.4" y="547.9" text-anchor="middle" class="tk" font-size="12.2">0.90</text>
<text x="491.5" y="446.9" text-anchor="end" class="tk" font-size="12.2">0.90</text>
<line x1="641.4" y1="534.5" x2="641.4" y2="537.5" stroke="#333" stroke-width="1"/>
<line x1="493.5" y1="418.4" x2="496.5" y2="418.4" stroke="#333" stroke-width="1"/>
<text x="641.4" y="547.9" text-anchor="middle" class="tk" font-size="12.2">1.05</text>
<text x="491.5" y="422.0" text-anchor="end" class="tk" font-size="12.2">1.05</text>
<line x1="672.5" y1="534.5" x2="672.5" y2="537.5" stroke="#333" stroke-width="1"/>
<line x1="493.5" y1="393.5" x2="496.5" y2="393.5" stroke="#333" stroke-width="1"/>
<text x="672.5" y="547.9" text-anchor="middle" class="tk" font-size="12.2">1.20</text>
<text x="491.5" y="397.1" text-anchor="end" class="tk" font-size="12.2">1.20</text>
<line x1="501.7" y1="534.5" x2="501.7" y2="536.5" stroke="#333" stroke-width="0.9"/>
<line x1="494.5" y1="530.4" x2="496.5" y2="530.4" stroke="#333" stroke-width="0.9"/>
<line x1="532.7" y1="534.5" x2="532.7" y2="536.5" stroke="#333" stroke-width="0.9"/>
<line x1="494.5" y1="505.5" x2="496.5" y2="505.5" stroke="#333" stroke-width="0.9"/>
<line x1="563.8" y1="534.5" x2="563.8" y2="536.5" stroke="#333" stroke-width="0.9"/>
<line x1="494.5" y1="480.6" x2="496.5" y2="480.6" stroke="#333" stroke-width="0.9"/>
<line x1="594.9" y1="534.5" x2="594.9" y2="536.5" stroke="#333" stroke-width="0.9"/>
<line x1="494.5" y1="455.7" x2="496.5" y2="455.7" stroke="#333" stroke-width="0.9"/>
<line x1="625.9" y1="534.5" x2="625.9" y2="536.5" stroke="#333" stroke-width="0.9"/>
<line x1="494.5" y1="430.8" x2="496.5" y2="430.8" stroke="#333" stroke-width="0.9"/>
<line x1="657.0" y1="534.5" x2="657.0" y2="536.5" stroke="#333" stroke-width="0.9"/>
<line x1="494.5" y1="405.9" x2="496.5" y2="405.9" stroke="#333" stroke-width="0.9"/>
<text x="575.8" y="559.7" text-anchor="middle" class="al" style="font-size:12.2px">True RDME</text>
<text transform="translate(467,469.5) rotate(-90)" text-anchor="middle" class="al">Predicted RDME</text>
<circle cx="503.7" cy="401.8" r="2.5" fill="url(#gNC)"/>
<text x="511.0" y="404.9" class="lg">NC</text>
<circle cx="503.7" cy="412.7" r="2.5" fill="url(#gNRC)"/>
<text x="511.0" y="415.8" class="lg">NRC</text>
<circle cx="503.7" cy="423.6" r="2.5" fill="url(#gFRC)"/>
<text x="511.0" y="426.7" class="lg">FRC</text>
<circle cx="503.7" cy="434.6" r="2.5" fill="url(#gRAC)"/>
<text x="511.0" y="437.7" class="lg">RAC</text>
<circle cx="503.7" cy="445.5" r="2.5" fill="url(#gFRRAC)"/>
<text x="511.0" y="448.6" class="lg">FRRAC</text>
<text x="583.4" y="410.2" class="r2"><tspan font-style="italic">R</tspan><tspan dy="-4.5" font-size="7.5">2</tspan><tspan dy="4.5">=0.88</tspan></text>
<rect x="612.9" y="514.8" width="57.5" height="18.899999999999977" fill="#111"/>
<rect x="611.6" y="513.5" width="57.5" height="18.899999999999977" fill="#f4f2cb" stroke="#bbb" stroke-width="0.5"/>
<text x="640.4" y="526.9" text-anchor="middle" class="bx">GRU-Test</text>
<text x="456" y="400.8" class="pl">i</text>
<clipPath id="cpj"><rect x="41.5" y="577.5" width="176.0" height="142.0"/></clipPath>
<g clip-path="url(#cpj)">
<circle cx="196.6" cy="605.5" r="2.55" fill="url(#gNC)"/>
<circle cx="184.1" cy="608.5" r="2.55" fill="url(#gNC)"/>
<circle cx="182.8" cy="613.1" r="2.55" fill="url(#gNC)"/>
<circle cx="152.6" cy="621.0" r="2.55" fill="url(#gNC)"/>
<circle cx="169.7" cy="636.8" r="2.55" fill="url(#gNC)"/>
<circle cx="180.2" cy="646.0" r="2.55" fill="url(#gNC)"/>
<circle cx="128.9" cy="630.9" r="2.55" fill="url(#gNC)"/>
<circle cx="132.9" cy="634.8" r="2.55" fill="url(#gNC)"/>
<circle cx="130.3" cy="636.8" r="2.55" fill="url(#gNC)"/>
<circle cx="138.1" cy="650.6" r="2.55" fill="url(#gNC)"/>
<circle cx="70.0" cy="692.2" r="2.55" fill="url(#gNC)"/>
<circle cx="74.4" cy="688.1" r="2.55" fill="url(#gNC)"/>
<circle cx="74.4" cy="684.1" r="2.55" fill="url(#gNC)"/>
<circle cx="74.4" cy="668.5" r="2.55" fill="url(#gNC)"/>
<circle cx="80.7" cy="664.1" r="2.55" fill="url(#gNC)"/>
<circle cx="82.7" cy="677.6" r="2.55" fill="url(#gNC)"/>
<circle cx="82.7" cy="687.0" r="2.55" fill="url(#gNC)"/>
<circle cx="93.4" cy="661.5" r="2.55" fill="url(#gNC)"/>
<circle cx="97.3" cy="670.3" r="2.55" fill="url(#gNC)"/>
<circle cx="105.5" cy="644.0" r="2.55" fill="url(#gNC)"/>
<circle cx="105.8" cy="657.1" r="2.55" fill="url(#gNC)"/>
<circle cx="114.2" cy="663.2" r="2.55" fill="url(#gNC)"/>
<circle cx="116.0" cy="637.8" r="2.55" fill="url(#gNC)"/>
<circle cx="183.0" cy="616.8" r="2.55" fill="url(#gNC)"/>
<circle cx="156.0" cy="634.3" r="2.55" fill="url(#gNC)"/>
<circle cx="138.1" cy="630.9" r="2.55" fill="url(#gNRC)"/>
<circle cx="155.2" cy="634.2" r="2.55" fill="url(#gNRC)"/>
<circle cx="105.8" cy="671.4" r="2.55" fill="url(#gNRC)"/>
<circle cx="175.6" cy="609.9" r="2.55" fill="url(#gFRC)"/>
<circle cx="180.2" cy="617.7" r="2.55" fill="url(#gFRC)"/>
<circle cx="178.2" cy="622.3" r="2.55" fill="url(#gFRC)"/>
<circle cx="136.8" cy="627.6" r="2.55" fill="url(#gFRC)"/>
<circle cx="140.8" cy="631.5" r="2.55" fill="url(#gFRC)"/>
<circle cx="145.4" cy="633.5" r="2.55" fill="url(#gFRC)"/>
<circle cx="163.1" cy="632.2" r="2.55" fill="url(#gFRC)"/>
<circle cx="130.3" cy="642.0" r="2.55" fill="url(#gFRC)"/>
<circle cx="142.1" cy="635.5" r="2.55" fill="url(#gFRC)"/>
<circle cx="146.7" cy="639.4" r="2.55" fill="url(#gFRC)"/>
<circle cx="134.2" cy="653.9" r="2.55" fill="url(#gFRC)"/>
<circle cx="130.3" cy="657.2" r="2.55" fill="url(#gFRC)"/>
<circle cx="139.5" cy="626.3" r="2.55" fill="url(#gFRC)"/>
<circle cx="58.3" cy="696.2" r="2.55" fill="url(#gFRC)"/>
<circle cx="62.3" cy="692.9" r="2.55" fill="url(#gFRC)"/>
<circle cx="76.6" cy="681.9" r="2.55" fill="url(#gFRC)"/>
<circle cx="76.6" cy="676.4" r="2.55" fill="url(#gFRC)"/>
<circle cx="86.8" cy="666.6" r="2.55" fill="url(#gFRC)"/>
<circle cx="82.7" cy="672.9" r="2.55" fill="url(#gFRC)"/>
<circle cx="97.3" cy="678.3" r="2.55" fill="url(#gFRC)"/>
<circle cx="93.4" cy="668.8" r="2.55" fill="url(#gFRC)"/>
<circle cx="97.3" cy="667.3" r="2.55" fill="url(#gFRC)"/>
<circle cx="99.2" cy="668.8" r="2.55" fill="url(#gFRC)"/>
<circle cx="97.3" cy="650.1" r="2.55" fill="url(#gFRC)"/>
<circle cx="101.7" cy="660.0" r="2.55" fill="url(#gFRC)"/>
<circle cx="103.6" cy="667.3" r="2.55" fill="url(#gFRC)"/>
<circle cx="109.4" cy="658.9" r="2.55" fill="url(#gFRC)"/>
<circle cx="110.2" cy="662.2" r="2.55" fill="url(#gFRC)"/>
<circle cx="111.6" cy="675.4" r="2.55" fill="url(#gFRC)"/>
<circle cx="116.0" cy="651.0" r="2.55" fill="url(#gFRC)"/>
<circle cx="118.2" cy="668.8" r="2.55" fill="url(#gFRC)"/>
<circle cx="124.0" cy="667.6" r="2.55" fill="url(#gFRC)"/>
<circle cx="120.4" cy="644.0" r="2.55" fill="url(#gFRC)"/>
<circle cx="121.8" cy="632.3" r="2.55" fill="url(#gFRC)"/>
<circle cx="128.4" cy="652.0" r="2.55" fill="url(#gFRC)"/>
<circle cx="179.3" cy="613.1" r="2.55" fill="url(#gFRC)"/>
<circle cx="181.5" cy="616.1" r="2.55" fill="url(#gFRC)"/>
<circle cx="168.4" cy="624.8" r="2.55" fill="url(#gFRC)"/>
<circle cx="147.2" cy="627.0" r="2.55" fill="url(#gFRC)"/>
<circle cx="147.9" cy="624.8" r="2.55" fill="url(#gFRC)"/>
<circle cx="176.2" cy="615.1" r="2.55" fill="url(#gRAC)"/>
<circle cx="174.9" cy="620.4" r="2.55" fill="url(#gRAC)"/>
<circle cx="171.6" cy="621.0" r="2.55" fill="url(#gRAC)"/>
<circle cx="165.7" cy="625.0" r="2.55" fill="url(#gRAC)"/>
<circle cx="158.5" cy="628.9" r="2.55" fill="url(#gRAC)"/>
<circle cx="144.7" cy="623.0" r="2.55" fill="url(#gRAC)"/>
<circle cx="144.7" cy="628.9" r="2.55" fill="url(#gRAC)"/>
<circle cx="146.0" cy="632.2" r="2.55" fill="url(#gRAC)"/>
<circle cx="149.3" cy="637.4" r="2.55" fill="url(#gRAC)"/>
<circle cx="153.2" cy="638.8" r="2.55" fill="url(#gRAC)"/>
<circle cx="136.8" cy="638.1" r="2.55" fill="url(#gRAC)"/>
<circle cx="140.8" cy="640.1" r="2.55" fill="url(#gRAC)"/>
<circle cx="138.1" cy="644.7" r="2.55" fill="url(#gRAC)"/>
<circle cx="134.2" cy="648.6" r="2.55" fill="url(#gRAC)"/>
<circle cx="127.6" cy="631.5" r="2.55" fill="url(#gRAC)"/>
<circle cx="126.3" cy="646.0" r="2.55" fill="url(#gRAC)"/>
<circle cx="128.3" cy="652.6" r="2.55" fill="url(#gRAC)"/>
<circle cx="156.5" cy="620.4" r="2.55" fill="url(#gRAC)"/>
<circle cx="54.0" cy="682.2" r="2.55" fill="url(#gRAC)"/>
<circle cx="85.0" cy="662.7" r="2.55" fill="url(#gRAC)"/>
<circle cx="82.7" cy="681.2" r="2.55" fill="url(#gRAC)"/>
<circle cx="101.4" cy="653.9" r="2.55" fill="url(#gRAC)"/>
<circle cx="105.5" cy="647.2" r="2.55" fill="url(#gRAC)"/>
<circle cx="105.8" cy="662.7" r="2.55" fill="url(#gRAC)"/>
<circle cx="114.2" cy="654.9" r="2.55" fill="url(#gRAC)"/>
<circle cx="114.2" cy="657.8" r="2.55" fill="url(#gRAC)"/>
<circle cx="118.2" cy="663.2" r="2.55" fill="url(#gRAC)"/>
<circle cx="120.1" cy="650.5" r="2.55" fill="url(#gRAC)"/>
<circle cx="121.8" cy="652.7" r="2.55" fill="url(#gRAC)"/>
<circle cx="124.0" cy="647.6" r="2.55" fill="url(#gRAC)"/>
<circle cx="161.1" cy="617.5" r="2.55" fill="url(#gRAC)"/>
<circle cx="146.5" cy="635.0" r="2.55" fill="url(#gRAC)"/>
<circle cx="173.6" cy="615.1" r="2.55" fill="url(#gFRRAC)"/>
<circle cx="169.7" cy="615.8" r="2.55" fill="url(#gFRRAC)"/>
<circle cx="165.7" cy="617.7" r="2.55" fill="url(#gFRRAC)"/>
<circle cx="161.8" cy="619.7" r="2.55" fill="url(#gFRRAC)"/>
<circle cx="157.8" cy="621.7" r="2.55" fill="url(#gFRRAC)"/>
<circle cx="155.2" cy="624.3" r="2.55" fill="url(#gFRRAC)"/>
<circle cx="151.3" cy="628.9" r="2.55" fill="url(#gFRRAC)"/>
<circle cx="148.7" cy="631.5" r="2.55" fill="url(#gFRRAC)"/>
<circle cx="153.2" cy="631.5" r="2.55" fill="url(#gFRRAC)"/>
<circle cx="130.3" cy="645.3" r="2.55" fill="url(#gFRRAC)"/>
<circle cx="171.0" cy="618.4" r="2.55" fill="url(#gFRRAC)"/>
<circle cx="164.4" cy="621.0" r="2.55" fill="url(#gFRRAC)"/>
<circle cx="167.6" cy="620.4" r="2.55" fill="url(#gFRRAC)"/>
<circle cx="159.6" cy="624.8" r="2.55" fill="url(#gFRRAC)"/>
<circle cx="154.5" cy="627.0" r="2.55" fill="url(#gFRRAC)"/>
<circle cx="161.8" cy="625.5" r="2.55" fill="url(#gFRRAC)"/>
</g>
<line x1="41.5" y1="719.5" x2="217.5" y2="577.5" stroke="#111" stroke-width="1.4" stroke-dasharray="3.6,2.6"/>
<rect x="41.5" y="577.5" width="176.0" height="142.0" fill="none" stroke="#333" stroke-width="1.2"/>
<line x1="62.2" y1="719.5" x2="62.2" y2="722.5" stroke="#333" stroke-width="1"/>
<line x1="38.5" y1="702.8" x2="41.5" y2="702.8" stroke="#333" stroke-width="1"/>
<text x="62.2" y="732.9" text-anchor="middle" class="tk" font-size="12.2">0.45</text>
<text x="36.5" y="706.4" text-anchor="end" class="tk" font-size="12.2">0.45</text>
<line x1="93.3" y1="719.5" x2="93.3" y2="722.5" stroke="#333" stroke-width="1"/>
<line x1="38.5" y1="677.7" x2="41.5" y2="677.7" stroke="#333" stroke-width="1"/>
<text x="93.3" y="732.9" text-anchor="middle" class="tk" font-size="12.2">0.60</text>
<text x="36.5" y="681.3" text-anchor="end" class="tk" font-size="12.2">0.60</text>
<line x1="124.3" y1="719.5" x2="124.3" y2="722.5" stroke="#333" stroke-width="1"/>
<line x1="38.5" y1="652.7" x2="41.5" y2="652.7" stroke="#333" stroke-width="1"/>
<text x="124.3" y="732.9" text-anchor="middle" class="tk" font-size="12.2">0.75</text>
<text x="36.5" y="656.3" text-anchor="end" class="tk" font-size="12.2">0.75</text>
<line x1="155.4" y1="719.5" x2="155.4" y2="722.5" stroke="#333" stroke-width="1"/>
<line x1="38.5" y1="627.6" x2="41.5" y2="627.6" stroke="#333" stroke-width="1"/>
<text x="155.4" y="732.9" text-anchor="middle" class="tk" font-size="12.2">0.90</text>
<text x="36.5" y="631.2" text-anchor="end" class="tk" font-size="12.2">0.90</text>
<line x1="186.4" y1="719.5" x2="186.4" y2="722.5" stroke="#333" stroke-width="1"/>
<line x1="38.5" y1="602.6" x2="41.5" y2="602.6" stroke="#333" stroke-width="1"/>
<text x="186.4" y="732.9" text-anchor="middle" class="tk" font-size="12.2">1.05</text>
<text x="36.5" y="606.2" text-anchor="end" class="tk" font-size="12.2">1.05</text>
<line x1="217.5" y1="719.5" x2="217.5" y2="722.5" stroke="#333" stroke-width="1"/>
<line x1="38.5" y1="577.5" x2="41.5" y2="577.5" stroke="#333" stroke-width="1"/>
<text x="217.5" y="732.9" text-anchor="middle" class="tk" font-size="12.2">1.20</text>
<text x="36.5" y="581.1" text-anchor="end" class="tk" font-size="12.2">1.20</text>
<line x1="46.7" y1="719.5" x2="46.7" y2="721.5" stroke="#333" stroke-width="0.9"/>
<line x1="39.5" y1="715.3" x2="41.5" y2="715.3" stroke="#333" stroke-width="0.9"/>
<line x1="77.7" y1="719.5" x2="77.7" y2="721.5" stroke="#333" stroke-width="0.9"/>
<line x1="39.5" y1="690.3" x2="41.5" y2="690.3" stroke="#333" stroke-width="0.9"/>
<line x1="108.8" y1="719.5" x2="108.8" y2="721.5" stroke="#333" stroke-width="0.9"/>
<line x1="39.5" y1="665.2" x2="41.5" y2="665.2" stroke="#333" stroke-width="0.9"/>
<line x1="139.9" y1="719.5" x2="139.9" y2="721.5" stroke="#333" stroke-width="0.9"/>
<line x1="39.5" y1="640.1" x2="41.5" y2="640.1" stroke="#333" stroke-width="0.9"/>
<line x1="170.9" y1="719.5" x2="170.9" y2="721.5" stroke="#333" stroke-width="0.9"/>
<line x1="39.5" y1="615.1" x2="41.5" y2="615.1" stroke="#333" stroke-width="0.9"/>
<line x1="202.0" y1="719.5" x2="202.0" y2="721.5" stroke="#333" stroke-width="0.9"/>
<line x1="39.5" y1="590.0" x2="41.5" y2="590.0" stroke="#333" stroke-width="0.9"/>
<text x="117.9" y="744.2" text-anchor="middle" class="al" style="font-size:12.2px">True RDME</text>
<text transform="translate(13,652.8) rotate(-90)" text-anchor="middle" class="al">Predicted RDME</text>
<circle cx="48.7" cy="585.8" r="2.5" fill="url(#gNC)"/>
<text x="56.0" y="588.9" class="lg">NC</text>
<circle cx="48.7" cy="596.7" r="2.5" fill="url(#gNRC)"/>
<text x="56.0" y="599.8" class="lg">NRC</text>
<circle cx="48.7" cy="607.6" r="2.5" fill="url(#gFRC)"/>
<text x="56.0" y="610.7" class="lg">FRC</text>
<circle cx="48.7" cy="618.6" r="2.5" fill="url(#gRAC)"/>
<text x="56.0" y="621.7" class="lg">RAC</text>
<circle cx="48.7" cy="629.5" r="2.5" fill="url(#gFRRAC)"/>
<text x="56.0" y="632.6" class="lg">FRRAC</text>
<text x="130.1" y="594.5" class="r2"><tspan font-style="italic">R</tspan><tspan dy="-4.5" font-size="7.5">2</tspan><tspan dy="4.5">=0.90</tspan></text>
<rect x="131.8" y="699.5999999999999" width="84.4" height="18.300000000000068" fill="#111"/>
<rect x="130.5" y="698.3" width="84.4" height="18.300000000000068" fill="#f4f2cb" stroke="#bbb" stroke-width="0.5"/>
<text x="172.7" y="711.6" text-anchor="middle" class="bx">LSTM-SA-Test</text>
<text x="0.9" y="584.8" class="pl">j</text>
<clipPath id="cpk"><rect x="268.5" y="583.5" width="176.0" height="142.0"/></clipPath>
<g clip-path="url(#cpk)">
<circle cx="423.6" cy="613.5" r="2.55" fill="url(#gNC)"/>
<circle cx="411.5" cy="615.5" r="2.55" fill="url(#gNC)"/>
<circle cx="409.5" cy="620.8" r="2.55" fill="url(#gNC)"/>
<circle cx="397.0" cy="638.1" r="2.55" fill="url(#gNC)"/>
<circle cx="407.3" cy="639.8" r="2.55" fill="url(#gNC)"/>
<circle cx="370.1" cy="653.0" r="2.55" fill="url(#gNC)"/>
<circle cx="357.6" cy="641.1" r="2.55" fill="url(#gNC)"/>
<circle cx="362.9" cy="641.8" r="2.55" fill="url(#gNC)"/>
<circle cx="297.7" cy="701.2" r="2.55" fill="url(#gNC)"/>
<circle cx="301.8" cy="697.4" r="2.55" fill="url(#gNC)"/>
<circle cx="301.8" cy="685.5" r="2.55" fill="url(#gNC)"/>
<circle cx="301.8" cy="673.8" r="2.55" fill="url(#gNC)"/>
<circle cx="308.0" cy="669.7" r="2.55" fill="url(#gNC)"/>
<circle cx="320.4" cy="662.8" r="2.55" fill="url(#gNC)"/>
<circle cx="324.3" cy="656.3" r="2.55" fill="url(#gNC)"/>
<circle cx="328.4" cy="673.8" r="2.55" fill="url(#gNC)"/>
<circle cx="337.2" cy="668.7" r="2.55" fill="url(#gNC)"/>
<circle cx="341.2" cy="671.6" r="2.55" fill="url(#gNC)"/>
<circle cx="343.0" cy="646.1" r="2.55" fill="url(#gNC)"/>
<circle cx="353.2" cy="662.8" r="2.55" fill="url(#gNC)"/>
<circle cx="366.4" cy="652.6" r="2.55" fill="url(#gNC)"/>
<circle cx="392.6" cy="618.9" r="2.55" fill="url(#gNC)"/>
<circle cx="368.8" cy="633.2" r="2.55" fill="url(#gNRC)"/>
<circle cx="378.0" cy="628.7" r="2.55" fill="url(#gNRC)"/>
<circle cx="364.2" cy="662.2" r="2.55" fill="url(#gNRC)"/>
<circle cx="348.8" cy="669.1" r="2.55" fill="url(#gNRC)"/>
<circle cx="403.0" cy="614.5" r="2.55" fill="url(#gFRC)"/>
<circle cx="407.6" cy="618.1" r="2.55" fill="url(#gFRC)"/>
<circle cx="407.6" cy="622.1" r="2.55" fill="url(#gFRC)"/>
<circle cx="364.2" cy="636.5" r="2.55" fill="url(#gFRC)"/>
<circle cx="368.1" cy="641.8" r="2.55" fill="url(#gFRC)"/>
<circle cx="390.5" cy="641.8" r="2.55" fill="url(#gFRC)"/>
<circle cx="390.5" cy="631.9" r="2.55" fill="url(#gFRC)"/>
<circle cx="373.4" cy="643.1" r="2.55" fill="url(#gFRC)"/>
<circle cx="359.0" cy="658.9" r="2.55" fill="url(#gFRC)"/>
<circle cx="360.9" cy="661.5" r="2.55" fill="url(#gFRC)"/>
<circle cx="285.3" cy="703.0" r="2.55" fill="url(#gFRC)"/>
<circle cx="289.7" cy="703.0" r="2.55" fill="url(#gFRC)"/>
<circle cx="303.9" cy="694.2" r="2.55" fill="url(#gFRC)"/>
<circle cx="303.9" cy="677.0" r="2.55" fill="url(#gFRC)"/>
<circle cx="310.1" cy="677.9" r="2.55" fill="url(#gFRC)"/>
<circle cx="314.5" cy="681.1" r="2.55" fill="url(#gFRC)"/>
<circle cx="320.4" cy="679.3" r="2.55" fill="url(#gFRC)"/>
<circle cx="324.3" cy="686.2" r="2.55" fill="url(#gFRC)"/>
<circle cx="322.6" cy="670.1" r="2.55" fill="url(#gFRC)"/>
<circle cx="324.7" cy="666.5" r="2.55" fill="url(#gFRC)"/>
<circle cx="324.3" cy="661.4" r="2.55" fill="url(#gFRC)"/>
<circle cx="328.4" cy="665.8" r="2.55" fill="url(#gFRC)"/>
<circle cx="331.3" cy="671.6" r="2.55" fill="url(#gFRC)"/>
<circle cx="336.4" cy="663.9" r="2.55" fill="url(#gFRC)"/>
<circle cx="339.3" cy="681.4" r="2.55" fill="url(#gFRC)"/>
<circle cx="343.7" cy="656.3" r="2.55" fill="url(#gFRC)"/>
<circle cx="345.2" cy="675.3" r="2.55" fill="url(#gFRC)"/>
<circle cx="351.5" cy="672.3" r="2.55" fill="url(#gFRC)"/>
<circle cx="349.6" cy="643.1" r="2.55" fill="url(#gFRC)"/>
<circle cx="361.2" cy="657.7" r="2.55" fill="url(#gFRC)"/>
<circle cx="405.8" cy="624.7" r="2.55" fill="url(#gFRC)"/>
<circle cx="395.5" cy="628.4" r="2.55" fill="url(#gFRC)"/>
<circle cx="388.2" cy="633.5" r="2.55" fill="url(#gFRC)"/>
<circle cx="382.4" cy="637.1" r="2.55" fill="url(#gFRC)"/>
<circle cx="404.3" cy="620.8" r="2.55" fill="url(#gRAC)"/>
<circle cx="403.6" cy="624.7" r="2.55" fill="url(#gRAC)"/>
<circle cx="382.6" cy="627.3" r="2.55" fill="url(#gRAC)"/>
<circle cx="374.0" cy="629.3" r="2.55" fill="url(#gRAC)"/>
<circle cx="371.4" cy="630.0" r="2.55" fill="url(#gRAC)"/>
<circle cx="372.1" cy="636.5" r="2.55" fill="url(#gRAC)"/>
<circle cx="376.0" cy="636.5" r="2.55" fill="url(#gRAC)"/>
<circle cx="386.5" cy="639.2" r="2.55" fill="url(#gRAC)"/>
<circle cx="380.6" cy="644.4" r="2.55" fill="url(#gRAC)"/>
<circle cx="378.7" cy="641.8" r="2.55" fill="url(#gRAC)"/>
<circle cx="362.9" cy="647.0" r="2.55" fill="url(#gRAC)"/>
<circle cx="364.9" cy="649.7" r="2.55" fill="url(#gRAC)"/>
<circle cx="367.5" cy="647.0" r="2.55" fill="url(#gRAC)"/>
<circle cx="361.6" cy="654.9" r="2.55" fill="url(#gRAC)"/>
<circle cx="356.3" cy="657.6" r="2.55" fill="url(#gRAC)"/>
<circle cx="357.6" cy="644.4" r="2.55" fill="url(#gRAC)"/>
<circle cx="281.0" cy="684.7" r="2.55" fill="url(#gRAC)"/>
<circle cx="312.3" cy="670.6" r="2.55" fill="url(#gRAC)"/>
<circle cx="310.1" cy="683.3" r="2.55" fill="url(#gRAC)"/>
<circle cx="328.4" cy="661.8" r="2.55" fill="url(#gRAC)"/>
<circle cx="333.1" cy="655.5" r="2.55" fill="url(#gRAC)"/>
<circle cx="333.1" cy="659.9" r="2.55" fill="url(#gRAC)"/>
<circle cx="341.2" cy="661.8" r="2.55" fill="url(#gRAC)"/>
<circle cx="341.2" cy="665.0" r="2.55" fill="url(#gRAC)"/>
<circle cx="345.2" cy="653.1" r="2.55" fill="url(#gRAC)"/>
<circle cx="347.4" cy="660.7" r="2.55" fill="url(#gRAC)"/>
<circle cx="349.6" cy="649.0" r="2.55" fill="url(#gRAC)"/>
<circle cx="353.2" cy="645.8" r="2.55" fill="url(#gRAC)"/>
<circle cx="353.9" cy="652.6" r="2.55" fill="url(#gRAC)"/>
<circle cx="384.6" cy="632.7" r="2.55" fill="url(#gRAC)"/>
<circle cx="400.3" cy="620.8" r="2.55" fill="url(#gFRRAC)"/>
<circle cx="397.0" cy="622.1" r="2.55" fill="url(#gFRRAC)"/>
<circle cx="393.1" cy="622.7" r="2.55" fill="url(#gFRRAC)"/>
<circle cx="389.8" cy="624.1" r="2.55" fill="url(#gFRRAC)"/>
<circle cx="386.5" cy="626.0" r="2.55" fill="url(#gFRRAC)"/>
<circle cx="383.9" cy="629.3" r="2.55" fill="url(#gFRRAC)"/>
<circle cx="381.3" cy="631.9" r="2.55" fill="url(#gFRRAC)"/>
<circle cx="389.2" cy="630.6" r="2.55" fill="url(#gFRRAC)"/>
<circle cx="377.3" cy="644.4" r="2.55" fill="url(#gFRRAC)"/>
<circle cx="357.6" cy="647.0" r="2.55" fill="url(#gFRRAC)"/>
<circle cx="394.4" cy="625.4" r="2.55" fill="url(#gFRRAC)"/>
<circle cx="392.0" cy="626.0" r="2.55" fill="url(#gFRRAC)"/>
<circle cx="399.2" cy="623.2" r="2.55" fill="url(#gFRRAC)"/>
<circle cx="378.8" cy="634.2" r="2.55" fill="url(#gFRRAC)"/>
</g>
<line x1="268.5" y1="725.5" x2="444.5" y2="583.5" stroke="#111" stroke-width="1.4" stroke-dasharray="3.6,2.6"/>
<rect x="268.5" y="583.5" width="176.0" height="142.0" fill="none" stroke="#333" stroke-width="1.2"/>
<line x1="289.2" y1="725.5" x2="289.2" y2="728.5" stroke="#333" stroke-width="1"/>
<line x1="265.5" y1="708.8" x2="268.5" y2="708.8" stroke="#333" stroke-width="1"/>
<text x="289.2" y="738.9" text-anchor="middle" class="tk" font-size="12.2">0.45</text>
<text x="263.5" y="712.4" text-anchor="end" class="tk" font-size="12.2">0.45</text>
<line x1="320.3" y1="725.5" x2="320.3" y2="728.5" stroke="#333" stroke-width="1"/>
<line x1="265.5" y1="683.7" x2="268.5" y2="683.7" stroke="#333" stroke-width="1"/>
<text x="320.3" y="738.9" text-anchor="middle" class="tk" font-size="12.2">0.60</text>
<text x="263.5" y="687.3" text-anchor="end" class="tk" font-size="12.2">0.60</text>
<line x1="351.3" y1="725.5" x2="351.3" y2="728.5" stroke="#333" stroke-width="1"/>
<line x1="265.5" y1="658.7" x2="268.5" y2="658.7" stroke="#333" stroke-width="1"/>
<text x="351.3" y="738.9" text-anchor="middle" class="tk" font-size="12.2">0.75</text>
<text x="263.5" y="662.3" text-anchor="end" class="tk" font-size="12.2">0.75</text>
<line x1="382.4" y1="725.5" x2="382.4" y2="728.5" stroke="#333" stroke-width="1"/>
<line x1="265.5" y1="633.6" x2="268.5" y2="633.6" stroke="#333" stroke-width="1"/>
<text x="382.4" y="738.9" text-anchor="middle" class="tk" font-size="12.2">0.90</text>
<text x="263.5" y="637.2" text-anchor="end" class="tk" font-size="12.2">0.90</text>
<line x1="413.4" y1="725.5" x2="413.4" y2="728.5" stroke="#333" stroke-width="1"/>
<line x1="265.5" y1="608.6" x2="268.5" y2="608.6" stroke="#333" stroke-width="1"/>
<text x="413.4" y="738.9" text-anchor="middle" class="tk" font-size="12.2">1.05</text>
<text x="263.5" y="612.2" text-anchor="end" class="tk" font-size="12.2">1.05</text>
<line x1="444.5" y1="725.5" x2="444.5" y2="728.5" stroke="#333" stroke-width="1"/>
<line x1="265.5" y1="583.5" x2="268.5" y2="583.5" stroke="#333" stroke-width="1"/>
<text x="444.5" y="738.9" text-anchor="middle" class="tk" font-size="12.2">1.20</text>
<text x="263.5" y="587.1" text-anchor="end" class="tk" font-size="12.2">1.20</text>
<line x1="273.7" y1="725.5" x2="273.7" y2="727.5" stroke="#333" stroke-width="0.9"/>
<line x1="266.5" y1="721.3" x2="268.5" y2="721.3" stroke="#333" stroke-width="0.9"/>
<line x1="304.7" y1="725.5" x2="304.7" y2="727.5" stroke="#333" stroke-width="0.9"/>
<line x1="266.5" y1="696.3" x2="268.5" y2="696.3" stroke="#333" stroke-width="0.9"/>
<line x1="335.8" y1="725.5" x2="335.8" y2="727.5" stroke="#333" stroke-width="0.9"/>
<line x1="266.5" y1="671.2" x2="268.5" y2="671.2" stroke="#333" stroke-width="0.9"/>
<line x1="366.9" y1="725.5" x2="366.9" y2="727.5" stroke="#333" stroke-width="0.9"/>
<line x1="266.5" y1="646.1" x2="268.5" y2="646.1" stroke="#333" stroke-width="0.9"/>
<line x1="397.9" y1="725.5" x2="397.9" y2="727.5" stroke="#333" stroke-width="0.9"/>
<line x1="266.5" y1="621.1" x2="268.5" y2="621.1" stroke="#333" stroke-width="0.9"/>
<line x1="429.0" y1="725.5" x2="429.0" y2="727.5" stroke="#333" stroke-width="0.9"/>
<line x1="266.5" y1="596.0" x2="268.5" y2="596.0" stroke="#333" stroke-width="0.9"/>
<text x="347.7" y="750.4" text-anchor="middle" class="al" style="font-size:12.2px">True RDME</text>
<text transform="translate(240,659.9) rotate(-90)" text-anchor="middle" class="al">Predicted RDME</text>
<circle cx="276.3" cy="592.1" r="2.5" fill="url(#gNC)"/>
<text x="283.6" y="595.2" class="lg">NC</text>
<circle cx="276.3" cy="603.0" r="2.5" fill="url(#gNRC)"/>
<text x="283.6" y="606.1" class="lg">NRC</text>
<circle cx="276.3" cy="613.9" r="2.5" fill="url(#gFRC)"/>
<text x="283.6" y="617.0" class="lg">FRC</text>
<circle cx="276.3" cy="624.9" r="2.5" fill="url(#gRAC)"/>
<text x="283.6" y="628.0" class="lg">RAC</text>
<circle cx="276.3" cy="635.8" r="2.5" fill="url(#gFRRAC)"/>
<text x="283.6" y="638.9" class="lg">FRRAC</text>
<text x="355.9" y="600.8" class="r2"><tspan font-style="italic">R</tspan><tspan dy="-4.5" font-size="7.5">2</tspan><tspan dy="4.5">=0.91</tspan></text>
<rect x="385.1" y="705.9" width="58.0" height="18.0" fill="#111"/>
<rect x="383.8" y="704.6" width="58.0" height="18.0" fill="#f4f2cb" stroke="#bbb" stroke-width="0.5"/>
<text x="412.8" y="717.4" text-anchor="middle" class="bx">MSA-Test</text>
<text x="229" y="591.3" class="pl">k</text>
<clipPath id="tqf"><path d="M495.8,352.4 L634.1,352.4 A138.3,138.3 0 0 0 495.8,214.09999999999997 Z"/></clipPath>
<path d="M512.3,352.4 A16.5,16.5 0 0 0 495.8,335.9" fill="none" stroke="#c6c6c6" stroke-width="0.75"/>
<path d="M528.7,352.4 A32.9,32.9 0 0 0 495.8,319.5" fill="none" stroke="#c6c6c6" stroke-width="0.75"/>
<path d="M545.2,352.4 A49.4,49.4 0 0 0 495.8,303.0" fill="none" stroke="#c6c6c6" stroke-width="0.75"/>
<path d="M561.7,352.4 A65.9,65.9 0 0 0 495.8,286.5" fill="none" stroke="#c6c6c6" stroke-width="0.75"/>
<path d="M578.1,352.4 A82.3,82.3 0 0 0 495.8,270.1" fill="none" stroke="#c6c6c6" stroke-width="0.75"/>
<path d="M594.6,352.4 A98.8,98.8 0 0 0 495.8,253.6" fill="none" stroke="#c6c6c6" stroke-width="0.75"/>
<path d="M611.1,352.4 A115.3,115.3 0 0 0 495.8,237.1" fill="none" stroke="#c6c6c6" stroke-width="0.75"/>
<path d="M627.5,352.4 A131.7,131.7 0 0 0 495.8,220.7" fill="none" stroke="#c6c6c6" stroke-width="0.75"/>
<line x1="495.8" y1="352.4" x2="523.5" y2="216.9" stroke="#c6c6c6" stroke-width="0.75"/>
<line x1="495.8" y1="352.4" x2="551.1" y2="225.6" stroke="#c6c6c6" stroke-width="0.75"/>
<line x1="495.8" y1="352.4" x2="578.8" y2="241.8" stroke="#c6c6c6" stroke-width="0.75"/>
<line x1="495.8" y1="352.4" x2="606.4" y2="269.4" stroke="#c6c6c6" stroke-width="0.75"/>
<line x1="495.8" y1="352.4" x2="620.3" y2="292.1" stroke="#c6c6c6" stroke-width="0.75"/>
<line x1="495.8" y1="352.4" x2="627.2" y2="309.2" stroke="#c6c6c6" stroke-width="0.75"/>
<line x1="495.8" y1="352.4" x2="632.7" y2="332.9" stroke="#c6c6c6" stroke-width="0.75"/>
<g clip-path="url(#tqf)">
<circle cx="604.9" cy="352.4" r="8.2" fill="none" stroke="#3f72b4" stroke-width="0.9" stroke-dasharray="1,1"/>
<circle cx="604.9" cy="352.4" r="24.7" fill="none" stroke="#3f72b4" stroke-width="0.9" stroke-dasharray="1,1"/>
<circle cx="604.9" cy="352.4" r="41.2" fill="none" stroke="#3f72b4" stroke-width="0.9" stroke-dasharray="1,1"/>
<circle cx="604.9" cy="352.4" r="57.6" fill="none" stroke="#3f72b4" stroke-width="0.9" stroke-dasharray="1,1"/>
<circle cx="604.9" cy="352.4" r="74.1" fill="none" stroke="#3f72b4" stroke-width="0.9" stroke-dasharray="1,1"/>
<circle cx="604.9" cy="352.4" r="90.6" fill="none" stroke="#3f72b4" stroke-width="0.9" stroke-dasharray="1,1"/>
<circle cx="604.9" cy="352.4" r="107.0" fill="none" stroke="#3f72b4" stroke-width="0.9" stroke-dasharray="1,1"/>
<circle cx="604.9" cy="352.4" r="123.5" fill="none" stroke="#3f72b4" stroke-width="0.9" stroke-dasharray="1,1"/>
<circle cx="604.9" cy="352.4" r="139.9" fill="none" stroke="#3f72b4" stroke-width="0.9" stroke-dasharray="1,1"/>
<circle cx="604.9" cy="352.4" r="156.4" fill="none" stroke="#3f72b4" stroke-width="0.9" stroke-dasharray="1,1"/>
</g>
<path d="M604.9,352.4 A109.1,109.1 0 0 0 495.8,243.3" fill="none" stroke="#f02828" stroke-width="1.5" stroke-dasharray="4,3"/>
<path d="M634.1,352.4 A138.3,138.3 0 0 0 495.8,214.1" fill="none" stroke="#111" stroke-width="1.3"/>
<line x1="495.8" y1="352.4" x2="634.1" y2="352.4" stroke="#111" stroke-width="1.5"/>
<line x1="495.8" y1="352.4" x2="495.8" y2="214.1" stroke="#111" stroke-width="1.5"/>
<line x1="495.8" y1="352.4" x2="495.8" y2="355.4" stroke="#111" stroke-width="1"/>
<line x1="492.8" y1="352.4" x2="495.8" y2="352.4" stroke="#111" stroke-width="1"/>
<text x="491.3" y="355.4" text-anchor="end" class="tt">0.0</text>
<text x="495.8" y="364.4" text-anchor="middle" class="tt">0.0</text>
<line x1="512.3" y1="352.4" x2="512.3" y2="355.4" stroke="#111" stroke-width="1"/>
<line x1="492.8" y1="335.9" x2="495.8" y2="335.9" stroke="#111" stroke-width="1"/>
<text x="491.3" y="338.9" text-anchor="end" class="tt">0.2</text>
<text x="512.3" y="364.4" text-anchor="middle" class="tt">0.2</text>
<line x1="528.7" y1="352.4" x2="528.7" y2="355.4" stroke="#111" stroke-width="1"/>
<line x1="492.8" y1="319.5" x2="495.8" y2="319.5" stroke="#111" stroke-width="1"/>
<text x="491.3" y="322.5" text-anchor="end" class="tt">0.4</text>
<text x="528.7" y="364.4" text-anchor="middle" class="tt">0.4</text>
<line x1="545.2" y1="352.4" x2="545.2" y2="355.4" stroke="#111" stroke-width="1"/>
<line x1="492.8" y1="303.0" x2="495.8" y2="303.0" stroke="#111" stroke-width="1"/>
<text x="491.3" y="306.0" text-anchor="end" class="tt">0.6</text>
<text x="545.2" y="364.4" text-anchor="middle" class="tt">0.6</text>
<line x1="561.7" y1="352.4" x2="561.7" y2="355.4" stroke="#111" stroke-width="1"/>
<line x1="492.8" y1="286.5" x2="495.8" y2="286.5" stroke="#111" stroke-width="1"/>
<text x="491.3" y="289.5" text-anchor="end" class="tt">0.8</text>
<text x="561.7" y="364.4" text-anchor="middle" class="tt">0.8</text>
<line x1="578.1" y1="352.4" x2="578.1" y2="355.4" stroke="#111" stroke-width="1"/>
<line x1="492.8" y1="270.1" x2="495.8" y2="270.1" stroke="#111" stroke-width="1"/>
<text x="491.3" y="273.1" text-anchor="end" class="tt">1.0</text>
<text x="578.1" y="364.4" text-anchor="middle" class="tt">1.0</text>
<line x1="594.6" y1="352.4" x2="594.6" y2="355.4" stroke="#111" stroke-width="1"/>
<line x1="492.8" y1="253.6" x2="495.8" y2="253.6" stroke="#111" stroke-width="1"/>
<text x="491.3" y="256.6" text-anchor="end" class="tt">1.2</text>
<text x="594.6" y="364.4" text-anchor="middle" class="tt">1.2</text>
<line x1="611.1" y1="352.4" x2="611.1" y2="355.4" stroke="#111" stroke-width="1"/>
<line x1="492.8" y1="237.1" x2="495.8" y2="237.1" stroke="#111" stroke-width="1"/>
<text x="491.3" y="240.1" text-anchor="end" class="tt">1.4</text>
<line x1="627.5" y1="352.4" x2="627.5" y2="355.4" stroke="#111" stroke-width="1"/>
<line x1="492.8" y1="220.7" x2="495.8" y2="220.7" stroke="#111" stroke-width="1"/>
<text x="491.3" y="223.7" text-anchor="end" class="tt">1.6</text>
<text x="627.5" y="364.4" text-anchor="middle" class="tt">1.6</text>
<line x1="504.0" y1="352.4" x2="504.0" y2="354.4" stroke="#111" stroke-width="0.9"/>
<line x1="493.8" y1="344.2" x2="495.8" y2="344.2" stroke="#111" stroke-width="0.9"/>
<line x1="520.5" y1="352.4" x2="520.5" y2="354.4" stroke="#111" stroke-width="0.9"/>
<line x1="493.8" y1="327.7" x2="495.8" y2="327.7" stroke="#111" stroke-width="0.9"/>
<line x1="537.0" y1="352.4" x2="537.0" y2="354.4" stroke="#111" stroke-width="0.9"/>
<line x1="493.8" y1="311.2" x2="495.8" y2="311.2" stroke="#111" stroke-width="0.9"/>
<line x1="553.4" y1="352.4" x2="553.4" y2="354.4" stroke="#111" stroke-width="0.9"/>
<line x1="493.8" y1="294.8" x2="495.8" y2="294.8" stroke="#111" stroke-width="0.9"/>
<line x1="569.9" y1="352.4" x2="569.9" y2="354.4" stroke="#111" stroke-width="0.9"/>
<line x1="493.8" y1="278.3" x2="495.8" y2="278.3" stroke="#111" stroke-width="0.9"/>
<line x1="586.4" y1="352.4" x2="586.4" y2="354.4" stroke="#111" stroke-width="0.9"/>
<line x1="493.8" y1="261.8" x2="495.8" y2="261.8" stroke="#111" stroke-width="0.9"/>
<line x1="602.8" y1="352.4" x2="602.8" y2="354.4" stroke="#111" stroke-width="0.9"/>
<line x1="493.8" y1="245.4" x2="495.8" y2="245.4" stroke="#111" stroke-width="0.9"/>
<line x1="619.3" y1="352.4" x2="619.3" y2="354.4" stroke="#111" stroke-width="0.9"/>
<line x1="493.8" y1="228.9" x2="495.8" y2="228.9" stroke="#111" stroke-width="0.9"/>
<text x="611.3" y="364.4" text-anchor="middle" class="tt" style="fill:#f02020">True</text>
<line x1="509.6" y1="214.8" x2="509.4" y2="217.3" stroke="#111" stroke-width="1"/>
<line x1="523.5" y1="216.9" x2="522.7" y2="220.8" stroke="#111" stroke-width="1"/>
<line x1="537.3" y1="220.5" x2="536.5" y2="222.9" stroke="#111" stroke-width="1"/>
<line x1="551.1" y1="225.6" x2="549.5" y2="229.3" stroke="#111" stroke-width="1"/>
<line x1="565.0" y1="232.6" x2="563.7" y2="234.8" stroke="#111" stroke-width="1"/>
<line x1="578.8" y1="241.8" x2="576.4" y2="245.0" stroke="#111" stroke-width="1"/>
<line x1="592.6" y1="253.6" x2="590.9" y2="255.4" stroke="#111" stroke-width="1"/>
<line x1="606.4" y1="269.4" x2="603.2" y2="271.8" stroke="#111" stroke-width="1"/>
<line x1="620.3" y1="292.1" x2="616.7" y2="293.9" stroke="#111" stroke-width="1"/>
<line x1="627.2" y1="309.2" x2="623.4" y2="310.5" stroke="#111" stroke-width="1"/>
<line x1="632.7" y1="332.9" x2="628.8" y2="333.5" stroke="#111" stroke-width="1"/>
<line x1="621.7" y1="295.1" x2="619.8" y2="295.9" stroke="#111" stroke-width="0.8"/>
<line x1="623.0" y1="298.2" x2="621.2" y2="299.0" stroke="#111" stroke-width="0.8"/>
<line x1="624.4" y1="301.6" x2="622.6" y2="302.3" stroke="#111" stroke-width="0.8"/>
<line x1="625.8" y1="305.2" x2="623.9" y2="305.9" stroke="#111" stroke-width="0.8"/>
<line x1="628.6" y1="313.7" x2="626.6" y2="314.2" stroke="#111" stroke-width="0.8"/>
<line x1="630.0" y1="318.8" x2="628.0" y2="319.3" stroke="#111" stroke-width="0.8"/>
<line x1="631.3" y1="324.9" x2="629.4" y2="325.3" stroke="#111" stroke-width="0.8"/>
<text x="495.3" y="212.3" text-anchor="middle" class="tt">0</text>
<text x="522.9" y="215.2" text-anchor="middle" class="tt">0.2</text>
<text x="555.9" y="223.5" text-anchor="middle" class="tt">0.4</text>
<text x="583.1" y="239.7" text-anchor="middle" class="tt">0.6</text>
<text x="611.9" y="267.1" text-anchor="middle" class="tt">0.8</text>
<text x="625.9" y="289.1" text-anchor="middle" class="tt">0.9</text>
<text x="635.4" y="312.1" text-anchor="middle" class="tt">0.95</text>
<text x="641.0" y="334.7" text-anchor="middle" class="tt">0.99</text>
<text x="637.2" y="355.4" text-anchor="middle" class="tt">1</text>
<text x="506.4" y="224.9" text-anchor="middle" class="tc">1.9</text>
<text x="526.5" y="230.9" text-anchor="middle" class="tc">1.7</text>
<text x="545.7" y="240.0" text-anchor="middle" class="tc">1.5</text>
<text x="563.5" y="251.1" text-anchor="middle" class="tc">1.3</text>
<text x="578.2" y="264.2" text-anchor="middle" class="tc">1.1</text>
<text x="587.6" y="277.6" text-anchor="middle" class="tc">0.9</text>
<text x="599.4" y="291.4" text-anchor="middle" class="tc">0.7</text>
<text x="611.1" y="308.8" text-anchor="middle" class="tc">0.5</text>
<text x="617.2" y="325.6" text-anchor="middle" class="tc">0.3</text>
<text x="615.2" y="344.8" text-anchor="middle" class="tc">0.1</text>
<text transform="translate(593.3,342.2) rotate(-46)" text-anchor="middle" class="tcr">CRMSE</text>
<polygon points="604.88,348.40 608.97,351.37 607.40,356.18 602.35,356.18 600.79,351.37" fill="#f01818"/>
<rect x="574.9" y="320.9" width="4.8" height="4.8" fill="#555555"/>
<circle cx="586.9" cy="325.3" r="2.9" fill="#4a86c8"/>
<path d="M582.5,324.2 L585.5,329.4 L579.5,329.4Z" fill="#78d6f2"/>
<polygon points="585.40,324.90 586.16,327.05 588.44,327.11 586.64,328.50 587.28,330.69 585.40,329.40 583.52,330.69 584.16,328.50 582.36,327.11 584.64,327.05" fill="#e25c6c"/>
<path d="M590.4,330.5 L593.4,325.2 L587.4,325.2Z" fill="#e6c062"/>
<rect x="616.1" y="188.2" width="4.6" height="4.6" fill="#555555"/>
<text x="628.4" y="194.1" class="tl">DNN</text>
<circle cx="618.4" cy="203.9" r="2.8" fill="#4a86c8"/>
<text x="628.4" y="207.5" class="tl">LSTM</text>
<path d="M618.4,214.6 L621.2,219.5 L615.5,219.5Z" fill="#78d6f2"/>
<text x="628.4" y="221.0" class="tl">GRU</text>
<polygon points="618.40,227.81 619.13,229.85 621.29,229.91 619.57,231.23 620.19,233.31 618.40,232.09 616.61,233.31 617.23,231.23 615.51,229.91 617.67,229.85" fill="#e25c6c"/>
<text x="628.4" y="234.4" class="tl">LSTM-SA</text>
<path d="M618.4,247.2 L621.2,242.2 L615.5,242.2Z" fill="#e6c062"/>
<text x="628.4" y="247.9" class="tl">MSA</text>
<text transform="translate(478.8,283.2) rotate(-90)" text-anchor="middle" class="al" style="font-size:11.2px">Standard deviation</text>
<text x="565.0" y="379.9" text-anchor="middle" class="al" style="font-size:11.2px">Standard deviation</text>
<text transform="translate(599.3,239.8) rotate(50)" text-anchor="middle" class="al" style="font-size:11.5px">Correlation coefficient</text>
<text x="477" y="206.7" class="pl">f</text>
<clipPath id="tql"><path d="M500.7,728 L639.2,728 A138.5,138.5 0 0 0 500.7,589.5 Z"/></clipPath>
<path d="M526.4,728 A25.7,25.7 0 0 0 500.7,702.3" fill="none" stroke="#c6c6c6" stroke-width="0.75"/>
<path d="M552.1,728 A51.4,51.4 0 0 0 500.7,676.6" fill="none" stroke="#c6c6c6" stroke-width="0.75"/>
<path d="M577.7,728 A77.0,77.0 0 0 0 500.7,651.0" fill="none" stroke="#c6c6c6" stroke-width="0.75"/>
<path d="M603.4,728 A102.7,102.7 0 0 0 500.7,625.3" fill="none" stroke="#c6c6c6" stroke-width="0.75"/>
<path d="M629.1,728 A128.4,128.4 0 0 0 500.7,599.6" fill="none" stroke="#c6c6c6" stroke-width="0.75"/>
<line x1="500.7" y1="728" x2="528.4" y2="592.3" stroke="#c6c6c6" stroke-width="0.75"/>
<line x1="500.7" y1="728" x2="556.1" y2="601.1" stroke="#c6c6c6" stroke-width="0.75"/>
<line x1="500.7" y1="728" x2="583.8" y2="617.2" stroke="#c6c6c6" stroke-width="0.75"/>
<line x1="500.7" y1="728" x2="611.5" y2="644.9" stroke="#c6c6c6" stroke-width="0.75"/>
<line x1="500.7" y1="728" x2="625.4" y2="667.6" stroke="#c6c6c6" stroke-width="0.75"/>
<line x1="500.7" y1="728" x2="632.3" y2="684.8" stroke="#c6c6c6" stroke-width="0.75"/>
<line x1="500.7" y1="728" x2="637.8" y2="708.5" stroke="#c6c6c6" stroke-width="0.75"/>
<g clip-path="url(#tql)">
<circle cx="611.0" cy="728" r="8.6" fill="none" stroke="#3f72b4" stroke-width="0.9" stroke-dasharray="1,1"/>
<circle cx="611.0" cy="728" r="25.7" fill="none" stroke="#3f72b4" stroke-width="0.9" stroke-dasharray="1,1"/>
<circle cx="611.0" cy="728" r="42.8" fill="none" stroke="#3f72b4" stroke-width="0.9" stroke-dasharray="1,1"/>
<circle cx="611.0" cy="728" r="59.9" fill="none" stroke="#3f72b4" stroke-width="0.9" stroke-dasharray="1,1"/>
<circle cx="611.0" cy="728" r="77.0" fill="none" stroke="#3f72b4" stroke-width="0.9" stroke-dasharray="1,1"/>
<circle cx="611.0" cy="728" r="94.2" fill="none" stroke="#3f72b4" stroke-width="0.9" stroke-dasharray="1,1"/>
<circle cx="611.0" cy="728" r="111.3" fill="none" stroke="#3f72b4" stroke-width="0.9" stroke-dasharray="1,1"/>
<circle cx="611.0" cy="728" r="128.4" fill="none" stroke="#3f72b4" stroke-width="0.9" stroke-dasharray="1,1"/>
<circle cx="611.0" cy="728" r="145.5" fill="none" stroke="#3f72b4" stroke-width="0.9" stroke-dasharray="1,1"/>
</g>
<path d="M611.0,728 A110.3,110.3 0 0 0 500.7,617.7" fill="none" stroke="#f02828" stroke-width="1.5" stroke-dasharray="4,3"/>
<path d="M639.2,728 A138.5,138.5 0 0 0 500.7,589.5" fill="none" stroke="#111" stroke-width="1.3"/>
<line x1="500.7" y1="728" x2="639.2" y2="728" stroke="#111" stroke-width="1.5"/>
<line x1="500.7" y1="728" x2="500.7" y2="589.5" stroke="#111" stroke-width="1.5"/>
<line x1="500.7" y1="728" x2="500.7" y2="731" stroke="#111" stroke-width="1"/>
<line x1="497.7" y1="728.0" x2="500.7" y2="728.0" stroke="#111" stroke-width="1"/>
<text x="496.2" y="731.0" text-anchor="end" class="tt">0.00</text>
<text x="500.7" y="740.0" text-anchor="middle" class="tt">0.00</text>
<line x1="526.4" y1="728" x2="526.4" y2="731" stroke="#111" stroke-width="1"/>
<line x1="497.7" y1="702.3" x2="500.7" y2="702.3" stroke="#111" stroke-width="1"/>
<text x="496.2" y="705.3" text-anchor="end" class="tt">0.03</text>
<text x="526.4" y="740.0" text-anchor="middle" class="tt">0.03</text>
<line x1="552.1" y1="728" x2="552.1" y2="731" stroke="#111" stroke-width="1"/>
<line x1="497.7" y1="676.6" x2="500.7" y2="676.6" stroke="#111" stroke-width="1"/>
<text x="496.2" y="679.6" text-anchor="end" class="tt">0.06</text>
<text x="552.1" y="740.0" text-anchor="middle" class="tt">0.06</text>
<line x1="577.7" y1="728" x2="577.7" y2="731" stroke="#111" stroke-width="1"/>
<line x1="497.7" y1="651.0" x2="500.7" y2="651.0" stroke="#111" stroke-width="1"/>
<text x="496.2" y="654.0" text-anchor="end" class="tt">0.09</text>
<text x="577.7" y="740.0" text-anchor="middle" class="tt">0.09</text>
<line x1="603.4" y1="728" x2="603.4" y2="731" stroke="#111" stroke-width="1"/>
<line x1="497.7" y1="625.3" x2="500.7" y2="625.3" stroke="#111" stroke-width="1"/>
<text x="496.2" y="628.3" text-anchor="end" class="tt">0.12</text>
<line x1="629.1" y1="728" x2="629.1" y2="731" stroke="#111" stroke-width="1"/>
<line x1="497.7" y1="599.6" x2="500.7" y2="599.6" stroke="#111" stroke-width="1"/>
<text x="496.2" y="602.6" text-anchor="end" class="tt">0.15</text>
<text x="629.1" y="740.0" text-anchor="middle" class="tt">0.15</text>
<line x1="513.5" y1="728" x2="513.5" y2="730" stroke="#111" stroke-width="0.9"/>
<line x1="498.7" y1="715.2" x2="500.7" y2="715.2" stroke="#111" stroke-width="0.9"/>
<line x1="539.2" y1="728" x2="539.2" y2="730" stroke="#111" stroke-width="0.9"/>
<line x1="498.7" y1="689.5" x2="500.7" y2="689.5" stroke="#111" stroke-width="0.9"/>
<line x1="564.9" y1="728" x2="564.9" y2="730" stroke="#111" stroke-width="0.9"/>
<line x1="498.7" y1="663.8" x2="500.7" y2="663.8" stroke="#111" stroke-width="0.9"/>
<line x1="590.6" y1="728" x2="590.6" y2="730" stroke="#111" stroke-width="0.9"/>
<line x1="498.7" y1="638.1" x2="500.7" y2="638.1" stroke="#111" stroke-width="0.9"/>
<line x1="616.3" y1="728" x2="616.3" y2="730" stroke="#111" stroke-width="0.9"/>
<line x1="498.7" y1="612.4" x2="500.7" y2="612.4" stroke="#111" stroke-width="0.9"/>
<text x="604.0" y="740.0" text-anchor="middle" class="tt" style="fill:#f02020">True</text>
<line x1="514.5" y1="590.2" x2="514.3" y2="592.7" stroke="#111" stroke-width="1"/>
<line x1="528.4" y1="592.3" x2="527.6" y2="596.2" stroke="#111" stroke-width="1"/>
<line x1="542.2" y1="595.9" x2="541.5" y2="598.3" stroke="#111" stroke-width="1"/>
<line x1="556.1" y1="601.1" x2="554.5" y2="604.7" stroke="#111" stroke-width="1"/>
<line x1="569.9" y1="608.1" x2="568.7" y2="610.2" stroke="#111" stroke-width="1"/>
<line x1="583.8" y1="617.2" x2="581.4" y2="620.4" stroke="#111" stroke-width="1"/>
<line x1="597.6" y1="629.1" x2="595.9" y2="630.9" stroke="#111" stroke-width="1"/>
<line x1="611.5" y1="644.9" x2="608.3" y2="647.3" stroke="#111" stroke-width="1"/>
<line x1="625.4" y1="667.6" x2="621.8" y2="669.4" stroke="#111" stroke-width="1"/>
<line x1="632.3" y1="684.8" x2="628.5" y2="686.0" stroke="#111" stroke-width="1"/>
<line x1="637.8" y1="708.5" x2="633.9" y2="709.0" stroke="#111" stroke-width="1"/>
<line x1="626.7" y1="670.6" x2="624.9" y2="671.4" stroke="#111" stroke-width="0.8"/>
<line x1="628.1" y1="673.7" x2="626.3" y2="674.5" stroke="#111" stroke-width="0.8"/>
<line x1="629.5" y1="677.1" x2="627.6" y2="677.8" stroke="#111" stroke-width="0.8"/>
<line x1="630.9" y1="680.7" x2="629.0" y2="681.4" stroke="#111" stroke-width="0.8"/>
<line x1="633.7" y1="689.2" x2="631.7" y2="689.8" stroke="#111" stroke-width="0.8"/>
<line x1="635.0" y1="694.3" x2="633.1" y2="694.8" stroke="#111" stroke-width="0.8"/>
<line x1="636.4" y1="700.4" x2="634.5" y2="700.8" stroke="#111" stroke-width="0.8"/>
<text x="500.2" y="585.2" text-anchor="middle" class="tt">0</text>
<text x="528.4" y="588.2" text-anchor="middle" class="tt">0.2</text>
<text x="561.9" y="596.6" text-anchor="middle" class="tt">0.4</text>
<text x="589.6" y="613.1" text-anchor="middle" class="tt">0.6</text>
<text x="618.9" y="641.1" text-anchor="middle" class="tt">0.8</text>
<text x="633.2" y="663.6" text-anchor="middle" class="tt">0.9</text>
<text x="642.8" y="686.9" text-anchor="middle" class="tt">0.95</text>
<text x="648.6" y="709.9" text-anchor="middle" class="tt">0.99</text>
<text x="644.8" y="731.0" text-anchor="middle" class="tt">1</text>
<text x="521.5" y="607.2" text-anchor="middle" class="tc">0.17</text>
<text x="545.7" y="613.2" text-anchor="middle" class="tc">0.15</text>
<text x="565.1" y="623.3" text-anchor="middle" class="tc">0.13</text>
<text x="580.3" y="637.4" text-anchor="middle" class="tc">0.11</text>
<text x="593.0" y="650.8" text-anchor="middle" class="tc">0.09</text>
<text x="609.5" y="667.6" text-anchor="middle" class="tc">0.07</text>
<text x="617.2" y="684.4" text-anchor="middle" class="tc">0.05</text>
<text x="622.9" y="706.6" text-anchor="middle" class="tc">0.03</text>
<text x="621.9" y="722.3" text-anchor="middle" class="tc">0.01</text>
<text transform="translate(603.2,718.5) rotate(-44)" text-anchor="middle" class="tcr">CRMSE</text>
<polygon points="611.04,724.00 615.13,726.97 613.57,731.78 608.51,731.78 606.95,726.97" fill="#f01818"/>
<rect x="568.9" y="687.8" width="4.8" height="4.8" fill="#555555"/>
<circle cx="595.9" cy="695.7" r="2.9" fill="#4a86c8"/>
<path d="M585.7,698.2 L588.7,703.5 L582.7,703.5Z" fill="#78d6f2"/>
<polygon points="588.80,697.20 589.56,699.35 591.84,699.41 590.04,700.80 590.68,702.99 588.80,701.70 586.92,702.99 587.56,700.80 585.76,699.41 588.04,699.35" fill="#e25c6c"/>
<path d="M591.5,705.3 L594.5,700.0 L588.5,700.0Z" fill="#e6c062"/>
<rect x="627.2" y="563.7" width="4.6" height="4.6" fill="#555555"/>
<text x="639.5" y="569.6" class="tl">DNN</text>
<circle cx="629.5" cy="579.5" r="2.8" fill="#4a86c8"/>
<text x="639.5" y="583.1" class="tl">LSTM</text>
<path d="M629.5,590.0 L632.4,595.0 L626.6,595.0Z" fill="#78d6f2"/>
<text x="639.5" y="596.5" class="tl">GRU</text>
<polygon points="629.50,603.31 630.23,605.35 632.39,605.41 630.67,606.73 631.29,608.81 629.50,607.59 627.71,608.81 628.33,606.73 626.61,605.41 628.77,605.35" fill="#e25c6c"/>
<text x="639.5" y="610.0" class="tl">LSTM-SA</text>
<path d="M629.5,622.6 L632.4,617.7 L626.6,617.7Z" fill="#e6c062"/>
<text x="639.5" y="623.4" class="tl">MSA</text>
<text transform="translate(478.8,658.8) rotate(-90)" text-anchor="middle" class="al" style="font-size:11.2px">Standard deviation</text>
<text x="570.0" y="754.7" text-anchor="middle" class="al" style="font-size:11.2px">Standard deviation</text>
<text transform="translate(609.7,614.8) rotate(48.5)" text-anchor="middle" class="al" style="font-size:11.5px">Correlation coefficient</text>
<text x="481" y="582.5" class="pl">l</text>
</svg></body></html>
